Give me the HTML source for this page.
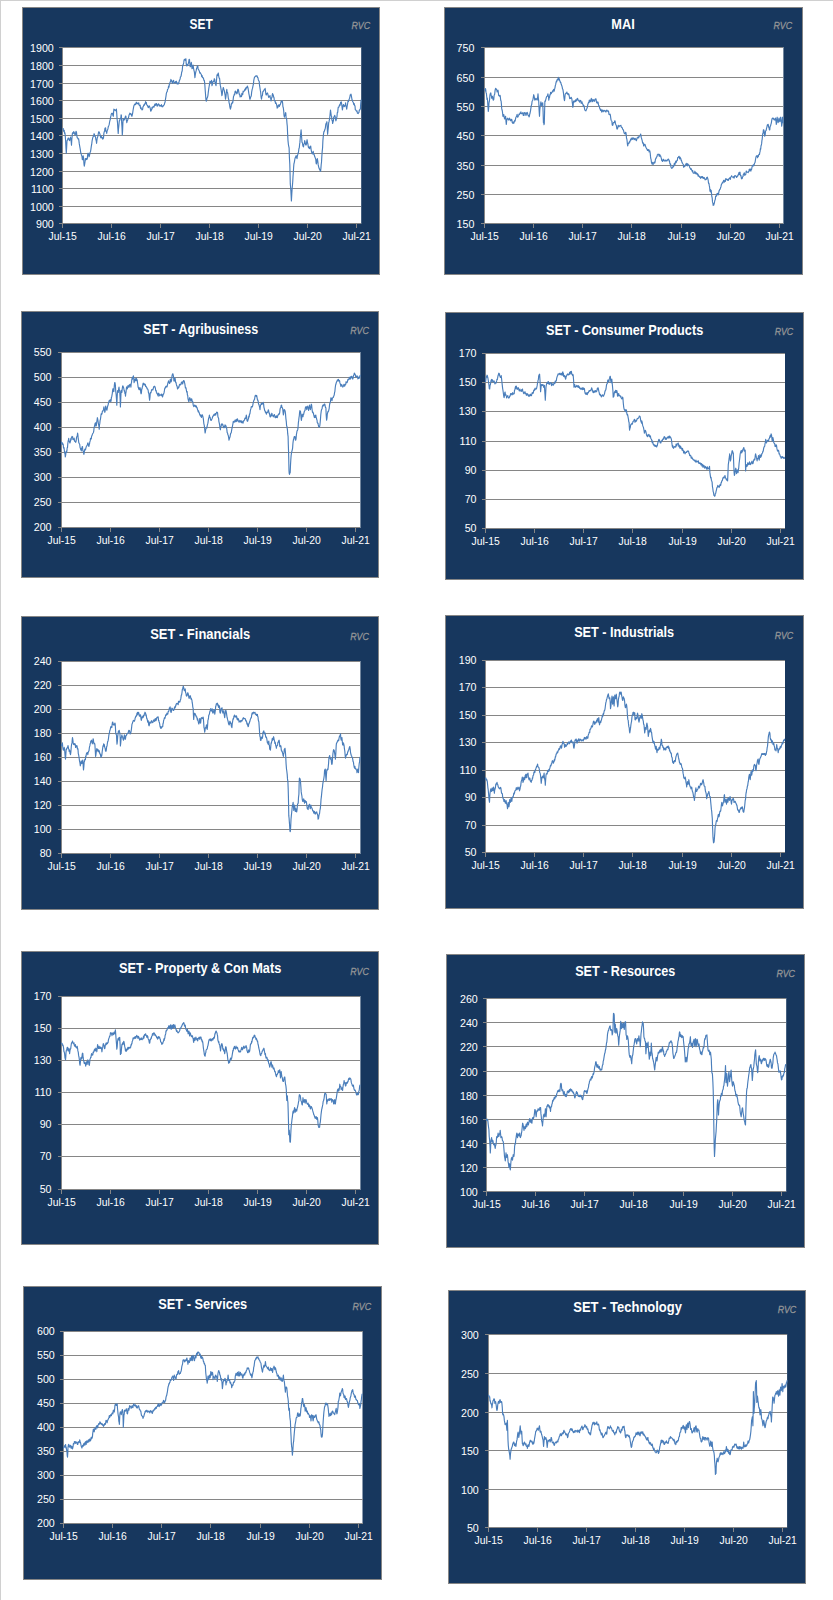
<!DOCTYPE html>
<html lang="en">
<head>
<meta charset="utf-8">
<title>SET sector index charts</title>
<style>
html,body{margin:0;padding:0;background:#fff;}
body{width:833px;height:1600px;overflow:hidden;position:relative;}
svg{display:block;position:absolute;left:0;top:0;}
text{font-family:"Liberation Sans",Arial,Helvetica,sans-serif;}
.ax{font-size:10.67px;fill:#fff;}
.yl{text-anchor:end;}
.xl{text-anchor:middle;}
.tt{font-size:14.2px;font-weight:bold;fill:#fff;text-anchor:middle;}
.rvc{text-rendering:geometricPrecision;font-size:10.2px;font-style:italic;fill:#999;stroke:#999;stroke-width:0.25px;text-anchor:end;}
.g{fill:#868686;shape-rendering:crispEdges;}
.pl{fill:#fff;}
.pn{fill:#17375e;stroke:none;shape-rendering:crispEdges;}
.bd{fill:#868686;shape-rendering:crispEdges;}
.ln{fill:none;stroke:#4a7ebb;stroke-width:1.15;stroke-linejoin:round;stroke-linecap:round;}
</style>
</head>
<body>
<svg width="833" height="1600" viewBox="0 0 833 1600">
<rect x="0" y="0" width="833" height="1" fill="#d0d0d0" shape-rendering="crispEdges"/>
<rect x="0" y="0" width="1" height="1600" fill="#d0d0d0" shape-rendering="crispEdges"/>

<g>
<rect class="bd" x="22" y="7" width="358" height="268"/>
<rect class="pn" x="23" y="8" width="356" height="266"/>
<rect class="pl" x="62" y="47" width="299.2" height="177"/>
<rect class="g" x="59" y="47" width="302.2" height="1"/>
<text class="ax yl" x="53.8" y="51.8">1900</text>
<rect class="g" x="59" y="65" width="302.2" height="1"/>
<text class="ax yl" x="53.8" y="69.8">1800</text>
<rect class="g" x="59" y="83" width="302.2" height="1"/>
<text class="ax yl" x="53.8" y="87.8">1700</text>
<rect class="g" x="59" y="100" width="302.2" height="1"/>
<text class="ax yl" x="53.8" y="104.8">1600</text>
<rect class="g" x="59" y="118" width="302.2" height="1"/>
<text class="ax yl" x="53.8" y="122.8">1500</text>
<rect class="g" x="59" y="135" width="302.2" height="1"/>
<text class="ax yl" x="53.8" y="139.8">1400</text>
<rect class="g" x="59" y="153" width="302.2" height="1"/>
<text class="ax yl" x="53.8" y="157.8">1300</text>
<rect class="g" x="59" y="171" width="302.2" height="1"/>
<text class="ax yl" x="53.8" y="175.8">1200</text>
<rect class="g" x="59" y="188" width="302.2" height="1"/>
<text class="ax yl" x="53.8" y="192.8">1100</text>
<rect class="g" x="59" y="206" width="302.2" height="1"/>
<text class="ax yl" x="53.8" y="210.8">1000</text>
<rect class="g" x="59" y="223" width="302.2" height="1"/>
<text class="ax yl" x="53.8" y="227.8">900</text>
<rect class="g" x="62" y="47" width="1" height="177"/>
<rect class="g" x="62" y="223" width="1" height="5"/>
<text class="ax xl" x="62.7" y="240" textLength="28.2" lengthAdjust="spacingAndGlyphs">Jul-15</text>
<rect class="g" x="111" y="223" width="1" height="5"/>
<text class="ax xl" x="111.7" y="240" textLength="28.2" lengthAdjust="spacingAndGlyphs">Jul-16</text>
<rect class="g" x="160" y="223" width="1" height="5"/>
<text class="ax xl" x="160.7" y="240" textLength="28.2" lengthAdjust="spacingAndGlyphs">Jul-17</text>
<rect class="g" x="209" y="223" width="1" height="5"/>
<text class="ax xl" x="209.7" y="240" textLength="28.2" lengthAdjust="spacingAndGlyphs">Jul-18</text>
<rect class="g" x="258" y="223" width="1" height="5"/>
<text class="ax xl" x="258.7" y="240" textLength="28.2" lengthAdjust="spacingAndGlyphs">Jul-19</text>
<rect class="g" x="307" y="223" width="1" height="5"/>
<text class="ax xl" x="307.7" y="240" textLength="28.2" lengthAdjust="spacingAndGlyphs">Jul-20</text>
<rect class="g" x="356" y="223" width="1" height="5"/>
<text class="ax xl" x="356.7" y="240" textLength="28.2" lengthAdjust="spacingAndGlyphs">Jul-21</text>
<text class="tt" x="201.2" y="29.1" textLength="23.2" lengthAdjust="spacingAndGlyphs">SET</text>
<text class="rvc" x="370.1" y="29" textLength="18.6" lengthAdjust="spacingAndGlyphs">RVC</text>
<polyline class="ln" points="62.9,128.9 63.2,128.5 63.5,131.2 63.8,130.2 64.2,130.3 64.5,133.3 64.9,132.7 65.2,135.2 65.6,140.5 66,148.7 66.3,153.2 66.7,146.1 67,140.6 67.5,140.2 67.9,138.7 68.3,137.9 68.7,138.7 69.1,139.7 69.6,140.6 69.9,138.5 70.2,139.2 70.5,137 70.8,138.5 71.2,141.6 71.5,145.1 71.8,139.8 72.1,136.6 72.4,133.4 72.9,132.6 73.3,133.4 73.7,131.6 74.1,132.5 74.5,132.9 75,135.2 75.3,133.2 75.7,134.1 76,131.3 76.5,132.2 76.9,136.1 77.3,137.9 77.7,137.9 78.1,139 78.6,138.8 78.9,140.6 79.3,143.9 79.6,145.6 80,147.8 80.4,150.1 80.7,152.6 81.1,153.5 81.4,155 81.7,155.5 82,156.7 82.3,159.5 82.6,159.7 82.9,157.1 83.2,155.9 83.6,158.4 84,164.1 84.3,166.2 84.7,163.9 85,161.9 85.4,158.6 85.8,160 86.1,158.5 86.5,158.9 86.8,159.5 87.3,158.6 87.7,154.2 88.1,153.2 88.4,155.2 88.7,154.4 89,156.8 89.4,155.9 89.7,154.4 90.1,152.3 90.5,151.7 90.9,149.3 91.3,146.3 91.7,144.2 92.1,140.9 92.6,138.4 93,137 93.3,136.4 93.7,135.7 94.1,133.7 94.4,134.3 94.8,136.4 95.1,136.2 95.5,137 95.9,139.7 96.2,140.4 96.6,143.3 96.9,140.5 97.3,137.7 97.7,137 98.1,134.8 98.5,132.7 98.9,131.6 99.3,132.6 99.8,133.7 100.2,135.2 100.5,136.9 100.9,137.8 101.3,136.3 101.6,137.9 102,137.9 102.3,137.4 102.7,139.1 103.1,138.8 103.5,137.9 103.9,133.1 104.3,131.6 104.6,131.2 104.9,128.6 105.2,128 105.6,127.9 105.9,131.5 106.3,131.6 106.7,133.4 107.1,130.9 107.5,130.2 107.9,128.9 108.3,126.6 108.8,125.7 109.2,124.4 109.5,122.5 109.9,120.6 110.3,119.3 110.6,117.2 111,115.7 111.3,114.2 111.7,113.3 112.1,113.6 112.5,113.3 112.9,115.5 113.3,116.3 113.6,112.3 113.9,109.1 114.3,110.3 114.7,109.7 115.1,110 115.5,110.3 116,110.9 116.4,109.1 116.7,112.8 117.1,119 117.5,122.4 117.8,127.6 118.2,133.4 118.5,128.9 118.9,125.3 119.3,120.8 119.7,120.7 120.1,118.6 120.5,118.1 120.8,118.6 121.1,114.8 121.4,115.4 121.7,122.9 122,127.5 122.3,134.9 122.6,130.7 122.9,122.9 123.2,119 123.6,120.2 123.9,119.4 124.3,119.8 124.7,118.1 125.1,117.8 125.5,116 125.9,116.3 126.2,119.8 126.5,120.4 126.8,122.6 127.2,120.3 127.5,120.7 127.9,119.2 128.3,118.1 128.7,116.8 129.1,114.7 129.5,114.5 129.8,113.1 130.1,114.2 130.4,113.6 130.8,114.2 131.1,113.9 131.5,115.5 131.9,116.3 132.3,114.9 132.7,112.8 133.1,110 133.4,108.4 133.7,106.7 134,105.5 134.4,104.9 134.7,104.2 135.1,103.9 135.5,104.6 135.9,103.9 136.3,102.2 136.7,102.8 137.2,103.6 137.6,103.7 138,103.2 138.4,104.1 138.7,102.9 139.1,104.5 139.4,105.5 139.8,105.8 140.2,105.2 140.5,108.3 140.9,107.3 141.3,109 141.7,109.1 142.1,110 142.6,109.4 143,106.7 143.4,106.4 143.8,104.9 144.1,105.2 144.5,105.1 144.8,103.7 145.2,103.8 145.6,101.6 145.9,103.1 146.3,102.5 146.7,104.7 147.1,105.2 147.5,105.5 148,107.1 148.4,107.6 148.8,106.4 149.2,105.9 149.5,106.4 149.9,107.3 150.3,108.7 150.7,111.2 151.1,110.9 151.4,109.3 151.7,109.8 152,107.3 152.4,108.2 152.8,106.9 153.1,107 153.5,106.4 153.9,107.2 154.3,106.1 154.7,104.6 155.2,103.9 155.6,105.4 156,104.3 156.4,103.5 156.7,104.2 157.1,106.2 157.4,105 157.8,105.8 158.2,104.1 158.5,103.8 158.9,104.3 159.3,105 159.7,106.1 160.1,105.5 160.6,105.8 161,106.2 161.4,104.6 161.8,105.8 162.1,106.7 162.5,106.6 162.8,106.8 163.2,105.8 163.6,105.5 163.9,105.1 164.3,104.6 164.7,102.9 165.1,102 165.5,99.2 166,96.1 166.4,93.1 166.8,92 167.2,91.8 167.5,89.5 167.9,89.1 168.2,88.4 168.6,86.1 169,87.2 169.3,84.4 169.7,83.9 170.1,81.8 170.5,81.8 170.9,79.4 171.4,80.6 171.8,81.1 172.2,83 172.6,83.5 172.9,81.4 173.3,80.6 173.6,80.3 174,82.4 174.4,82.5 174.7,83.1 175.1,83 175.5,81.7 175.9,82.8 176.3,81.2 176.8,82.4 177.2,84 177.6,83.9 178,83.1 178.3,83.9 178.7,83.4 179,82.1 179.4,80.4 179.8,79.9 180.1,78.9 180.5,76.7 180.9,76.7 181.3,75 181.7,72.2 182.2,70.7 182.6,66.3 183,65 183.4,64 183.7,62.9 184.1,59.7 184.4,59.6 184.8,59.3 185.2,60.3 185.5,60.1 185.9,58.7 186.2,63.6 186.6,65.9 187,64.2 187.3,65.3 187.7,65.7 188.1,64.1 188.4,63.4 188.8,61.3 189.1,59.3 189.5,59.6 189.9,64.5 190.2,66.8 190.6,66.4 190.9,64.3 191.3,62.3 191.7,65.1 192,68.6 192.4,68.4 192.7,67.2 193.1,65 193.5,68.1 193.9,70.1 194.4,72.2 194.6,74.4 194.9,77.6 195.3,74.6 195.7,72.4 196.2,70.4 196.6,68.4 197,67.5 197.4,65.9 197.8,66 198.1,69 198.5,69.5 198.9,70.3 199.3,70.9 199.8,73.1 200.2,72.7 200.6,73.4 201,74 201.4,74.7 201.7,76.7 202.1,75.5 202.5,77.6 202.8,77.3 203.2,78.1 203.5,78.3 203.9,80.5 204.3,80.3 204.6,82.4 204.9,85.6 205.2,90.2 205.5,94 205.8,98.1 206.1,101 206.4,101.1 206.8,99.4 207.1,97.8 207.5,97.4 207.9,95.6 208.3,92.1 208.8,88.4 209.2,86 209.6,83.8 210,81.2 210.4,82.3 210.7,82.3 211.1,81.8 211.5,80.3 211.7,81.9 212,85.7 212.4,84.1 212.7,83.2 213.1,81.3 213.4,81.2 213.9,81.4 214.3,78.7 214.7,79.4 215.1,82.7 215.5,83.9 216,85.7 216.3,82.5 216.7,78.3 217,74.9 217.5,75.6 217.9,73.9 218.3,73.1 218.7,76.1 219.1,78 219.6,78.5 219.9,81.8 220.3,85.4 220.6,86.6 221.1,89.6 221.5,92.2 221.9,95.6 222.3,94 222.7,90.3 223.2,87.5 223.5,87.8 223.9,89.9 224.2,90.2 224.7,93.1 225.1,95.1 225.5,99.2 225.9,96.9 226.3,92.6 226.8,89.3 227.1,92.2 227.5,92.4 227.8,93.8 228.3,98.1 228.7,99.2 229.1,102.8 229.5,104.1 229.9,107.1 230.4,109.1 230.7,108.1 231.1,106.5 231.4,103.7 231.9,103.9 232.3,102 232.7,102.8 233.1,100.1 233.5,96.6 234,95.6 234.3,94.1 234.7,94.7 235,91.8 235.4,91.1 235.8,92.4 236.1,92.8 236.5,92.1 236.8,93.8 237.3,92.9 237.7,89.6 238.1,89.3 238.5,90.2 239,93.2 239.4,94.7 239.7,94.1 240.1,97 240.5,95.8 240.8,96.5 241.2,96.2 241.5,96.6 241.9,93.3 242.3,93.8 242.7,94.7 243.1,91.2 243.5,92 243.9,91.4 244.4,90.7 244.8,89.3 245.1,90.3 245.5,88 245.9,89.3 246.2,87.5 246.6,87.8 246.9,87.2 247.3,86.1 247.7,87 248.1,88.5 248.5,91.1 248.9,93.8 249.2,95.2 249.5,97 249.8,99.2 250.2,99.2 250.5,97 250.9,96.9 251.3,95.6 251.7,91.8 252.1,89.7 252.5,88.4 252.9,86.3 253.4,84.2 253.8,80.3 254.1,78.9 254.5,77.1 254.9,76.8 255.2,76.7 255.6,76.1 255.9,75.9 256.3,76.2 256.7,75.8 257.1,75.8 257.5,77.5 257.9,77.6 258.3,79.7 258.8,80.9 259.2,81.2 259.5,84.9 259.9,87.5 260.3,90.2 260.7,92.5 261.1,97.2 261.5,99.2 261.9,96.2 262.4,95.5 262.8,92 263.1,91.3 263.5,91.2 263.9,90.2 264.3,89.6 264.7,89.5 265.1,88.4 265.4,90 265.7,92.9 266,94.7 266.4,95 266.7,93.4 267.1,93.7 267.5,92.9 267.9,94.3 268.3,95.8 268.7,97.4 269.1,96.5 269.6,96.4 270,95.6 270.3,98 270.7,98.2 271.1,101 271.5,97.9 271.9,97.8 272.3,94.7 272.6,93.5 272.9,95.6 273.2,94.7 273.6,97.1 273.9,97 274.3,99.9 274.7,101 275.1,100.9 275.5,103.4 275.9,102.8 276.3,103.7 276.8,105.3 277.2,108.2 277.5,106.2 277.9,107.5 278.3,105.3 278.6,105.5 279,104.7 279.3,106.5 279.7,105.6 280.1,104.6 280.5,104.1 280.9,102.4 281.3,101 281.7,102 282.2,100.8 282.6,102.8 282.9,106.5 283.3,107.7 283.7,110.9 284,115.1 284.4,117.2 284.7,115.5 285.1,115.5 285.5,112.7 285.8,113 286.1,117.8 286.4,118.1 286.7,119.6 287,123.6 287.3,126.2 287.6,133.4 288,140.6 288.4,144.5 288.7,146.1 289.1,147.8 289.4,157.4 289.8,164 290.1,175.2 290.3,183.9 290.6,187.2 290.9,191.1 291.1,195 291.4,201 291.8,194 292.1,189.3 292.4,185.7 292.7,182.2 293,176.7 293.3,172.9 293.6,167.8 293.9,164 294.2,162.8 294.5,161.5 294.8,159.5 295.2,157.6 295.6,157.7 295.9,155.9 296.3,155.9 296.6,156.3 297,158.6 297.4,155.5 297.7,155 298.1,153.2 298.5,152 298.9,148.8 299.3,147.8 299.6,144.5 299.9,142.4 300.2,138.8 300.5,135.1 300.8,132.9 301.1,129.8 301.4,134.3 301.7,138 302,142.4 302.4,142.7 302.8,145.3 303.1,146.4 303.5,146.9 303.9,143.9 304.3,143.7 304.7,140.6 305.2,142.6 305.6,144.7 306,145.1 306.4,144.2 306.7,141.5 307.1,139.7 307.5,142.8 307.9,144 308.3,146.9 308.8,148 309.2,146.9 309.6,148.7 310,147.4 310.3,147 310.7,146 311.1,149.6 311.5,151.4 311.9,153.2 312.4,153.9 312.8,153.1 313.2,151.4 313.6,154.1 313.9,154.2 314.3,155 314.7,156.6 315.1,157.4 315.5,158.6 315.8,159.6 316.1,163.1 316.4,164 316.7,162.6 317,159.4 317.3,158.6 317.6,160 317.9,162 318.2,164.9 318.7,167.1 319.1,168.2 319.5,169.4 319.9,169.2 320.2,171.2 320.6,171.2 320.9,168.4 321.2,164.5 321.5,162.2 321.8,156.7 322.2,151.4 322.6,147.5 322.9,140.6 323.3,136 323.6,133.4 324,131.4 324.4,131.3 324.7,129.8 325.1,129.1 325.4,127.5 325.8,124.4 326.2,123.2 326.5,123.4 326.9,121.7 327.2,126.9 327.6,134.3 328,130.1 328.3,127.6 328.7,122.6 329,121.9 329.3,120.1 329.6,119 329.9,116.3 330.2,113 330.5,110 330.8,112.3 331.2,115.4 331.6,116.3 331.9,120.2 332.3,120.2 332.6,123.5 333,122.2 333.4,120.7 333.7,117.2 334.1,116.9 334.4,116 334.8,115.4 335.2,116.8 335.5,119 335.9,120.8 336.2,119.6 336.6,118.2 337,116.3 337.3,112.5 337.7,112.4 338.1,108.2 338.4,107 338.8,107.2 339.1,106.4 339.5,104.9 339.9,105.6 340.2,104.6 340.6,102.4 340.9,102.3 341.3,101.9 341.7,104.3 342,106.8 342.4,110 342.7,108.2 343.1,105.4 343.5,104.6 343.8,105.2 344.2,106.7 344.5,106.4 344.9,105.6 345.3,105.4 345.6,102.8 346,106.3 346.3,107 346.7,109.1 347.1,106.3 347.5,104.5 348,101 348.4,101.6 348.8,99.9 349.2,99.2 349.6,98.2 349.9,96.8 350.3,94.7 350.7,94.5 351,94.2 351.4,96.2 351.7,97.8 352.1,100.1 352.5,100.9 352.9,101.8 353.4,102.8 353.8,104.6 354.2,103.6 354.6,105.5 355,105.9 355.3,109.8 355.7,110 356.1,110.4 356.5,111.2 357,110.9 357.4,113.1 357.8,113.4 358.2,113.6 358.6,112.6 358.9,112.6 359.3,110 359.7,110.1 360,109.3 360.4,109.1 360.7,103.7 361.1,100.1"/>
</g>
<g>
<rect class="bd" x="444" y="7" width="359" height="268"/>
<rect class="pn" x="445" y="8" width="357" height="266"/>
<rect class="pl" x="484" y="47" width="299.4" height="177"/>
<rect class="g" x="481" y="47" width="302.4" height="1"/>
<text class="ax yl" x="474.4" y="51.8">750</text>
<rect class="g" x="481" y="77" width="302.4" height="1"/>
<text class="ax yl" x="474.4" y="81.8">650</text>
<rect class="g" x="481" y="106" width="302.4" height="1"/>
<text class="ax yl" x="474.4" y="110.8">550</text>
<rect class="g" x="481" y="135" width="302.4" height="1"/>
<text class="ax yl" x="474.4" y="139.8">450</text>
<rect class="g" x="481" y="165" width="302.4" height="1"/>
<text class="ax yl" x="474.4" y="169.8">350</text>
<rect class="g" x="481" y="194" width="302.4" height="1"/>
<text class="ax yl" x="474.4" y="198.8">250</text>
<rect class="g" x="481" y="223" width="302.4" height="1"/>
<text class="ax yl" x="474.4" y="227.8">150</text>
<rect class="g" x="484" y="47" width="1" height="177"/>
<rect class="g" x="484" y="223" width="1" height="5"/>
<text class="ax xl" x="484.7" y="240" textLength="28.2" lengthAdjust="spacingAndGlyphs">Jul-15</text>
<rect class="g" x="533" y="223" width="1" height="5"/>
<text class="ax xl" x="533.7" y="240" textLength="28.2" lengthAdjust="spacingAndGlyphs">Jul-16</text>
<rect class="g" x="582" y="223" width="1" height="5"/>
<text class="ax xl" x="582.7" y="240" textLength="28.2" lengthAdjust="spacingAndGlyphs">Jul-17</text>
<rect class="g" x="631" y="223" width="1" height="5"/>
<text class="ax xl" x="631.7" y="240" textLength="28.2" lengthAdjust="spacingAndGlyphs">Jul-18</text>
<rect class="g" x="681" y="223" width="1" height="5"/>
<text class="ax xl" x="681.7" y="240" textLength="28.2" lengthAdjust="spacingAndGlyphs">Jul-19</text>
<rect class="g" x="730" y="223" width="1" height="5"/>
<text class="ax xl" x="730.7" y="240" textLength="28.2" lengthAdjust="spacingAndGlyphs">Jul-20</text>
<rect class="g" x="779" y="223" width="1" height="5"/>
<text class="ax xl" x="779.7" y="240" textLength="28.2" lengthAdjust="spacingAndGlyphs">Jul-21</text>
<text class="tt" x="623" y="28.8" textLength="23.4" lengthAdjust="spacingAndGlyphs">MAI</text>
<text class="rvc" x="792.1" y="29.2" textLength="18.6" lengthAdjust="spacingAndGlyphs">RVC</text>
<polyline class="ln" points="484.9,89.3 485.2,91 485.5,88.5 485.8,90.2 486.1,93 486.4,93.4 486.7,96.5 487,99.5 487.3,98.1 487.6,101 488,107.4 488.3,111.5 488.7,107.7 489,102.8 489.3,101.5 489.6,99.5 489.9,95.6 490.2,93.9 490.5,93.3 490.8,92.9 491.1,95.3 491.4,95.9 491.7,98.3 492,97 492.3,96.3 492.6,96.5 492.9,98.8 493.2,100 493.5,100.1 493.8,99.2 494.1,95.7 494.4,94.7 494.7,94.2 495,91.2 495.3,89.3 495.6,88.3 495.9,88.8 496.2,88.8 496.5,89.6 496.8,89.7 497.1,92 497.4,91.6 497.7,90.4 498,90.2 498.3,92.2 498.6,95.1 498.9,95.6 499.4,96.1 499.8,95.3 500.2,95.6 500.5,98.5 500.8,100.7 501.1,101 501.4,104 501.7,108.4 502,110 502.3,110.7 502.6,113.1 502.9,116.3 503.2,114.7 503.5,116.4 503.8,114.5 504.1,116.6 504.4,118.2 504.7,119 505,117.5 505.3,117.2 505.6,116.3 506,121.5 506.3,124.4 506.7,120.5 507,119 507.5,118.2 507.9,118.3 508.3,119.9 508.7,119.2 509.2,119.8 509.6,118.1 509.9,119.2 510.3,119.6 510.7,120.8 511.1,120.5 511.5,119.3 511.9,119.9 512.2,122.5 512.5,121.9 512.8,123.5 513.2,122.3 513.5,122.1 513.9,123.2 514.3,121.7 514.7,120.3 515.1,121.1 515.5,119 515.9,117.3 516.4,116.5 516.8,115.4 517.1,114.4 517.5,117.1 517.9,117 518.2,116.3 518.6,115.7 519.1,114 519.5,114.5 519.8,113.8 520.2,112.8 520.6,113.5 520.9,111.8 521.3,113.7 521.8,113.7 522.2,113.6 522.5,113.2 522.9,112.7 523.3,115.5 523.6,114.5 524,115.4 524.3,112.6 524.7,113.2 525.1,112.7 525.5,113.3 525.9,115.4 526.3,114.5 526.7,112.7 527.2,112.4 527.6,113.3 527.9,115.2 528.3,115.3 528.7,115.9 529,116.9 529.4,116.2 529.7,114.2 530.1,113 530.5,110.9 530.9,108.1 531.3,105.5 531.7,104.6 532.1,101.3 532.6,100.5 533,99.2 533.3,97.4 533.7,94.7 534.1,96.2 534.4,97.9 534.8,100.1 535.1,99.9 535.5,99.5 535.9,98.3 536.3,99.2 536.7,99 537.1,100.1 537.4,99 537.7,96.8 538,93.8 538.4,98.6 538.7,101 539.1,109.9 539.5,116.3 539.8,109.9 540.2,106.4 540.5,104.7 540.9,101.9 541.3,103.3 541.6,105.5 542,104.3 542.3,103.8 542.7,102.8 543.1,111.7 543.4,122.6 543.7,122.2 544,124.7 544.3,123.5 544.6,111.8 544.9,101 545.3,101.4 545.7,99.8 546.1,98.3 546.4,97.2 546.7,96.6 547,96.5 547.3,95.9 547.6,95.3 547.9,93.8 548.2,95.4 548.5,96.7 548.8,100.1 549.2,97.3 549.5,97.6 549.9,94.7 550.3,94.8 550.6,92.3 551,92.9 551.3,93.6 551.7,92.5 552.1,92 552.5,90.9 552.9,92 553.3,90.2 553.6,89.4 553.9,89.6 554.2,91.1 554.6,88.8 554.9,88.2 555.3,85.7 555.7,84.4 556,82.7 556.4,81.2 556.7,81.8 557.1,79.7 557.5,79.4 557.8,80 558.2,77.3 558.5,78.5 558.9,80 559.3,78.7 559.6,80.3 560,81.4 560.4,82.5 560.7,82.1 561.1,83.8 561.4,84.8 561.8,85.7 562.2,87.1 562.5,88.9 562.9,89.3 563.2,91.3 563.5,93.3 563.8,96.5 564.1,98.8 564.5,100.7 564.8,98.4 565.1,94.9 565.4,93.8 565.8,93.6 566.1,93.1 566.5,92.9 566.9,92.1 567.3,93.9 567.7,93.5 568.2,94.7 568.6,93.8 569,94.7 569.4,97 569.7,98.6 570.1,98.3 570.5,98.5 570.9,97.4 571.3,97.4 571.6,98.2 571.9,99.3 572.2,101.9 572.5,103.9 572.8,107.3 573.1,106.7 573.4,101.8 573.7,101 574.1,102.2 574.5,101.4 574.9,100.7 575.4,101.6 575.8,99.7 576.2,101 576.6,100.8 576.9,98.8 577.3,99.5 577.6,98.3 578.1,100.1 578.5,100.8 578.9,101 579.3,101.1 579.6,102.2 580,100.2 580.3,101 580.8,100.6 581.2,103.3 581.6,102.8 582,101.9 582.3,103.5 582.7,103.9 583,104.6 583.4,106.4 583.8,105.4 584.1,106.4 584.5,108.4 584.8,110 585.2,110.3 585.6,110.6 585.9,110.9 586.3,109.9 586.6,109 587,108.2 587.4,107 587.7,105 588.1,103.7 588.5,102.3 588.9,102.6 589.3,100.1 589.8,101.9 590.2,100 590.6,101 591,101.8 591.3,98.4 591.7,99.2 592.1,99.3 592.5,101.6 592.9,101 593.4,99.7 593.8,100.9 594.2,100.1 594.6,101.3 594.9,99.8 595.3,99.1 595.6,98.9 596,98.8 596.4,101.4 596.7,102.8 597.1,102.4 597.4,103.1 597.8,101.9 598.2,102.8 598.5,105.2 598.9,105.5 599.3,106.4 599.7,108.3 600.1,109.1 600.6,110.5 601,109.3 601.4,110.9 601.8,112.1 602.1,110.3 602.5,110.2 602.8,110 603.2,111.7 603.6,110.7 603.9,110.8 604.3,110.9 604.7,110.4 605.1,110.7 605.5,111.8 606,112 606.4,110.6 606.8,110 607.2,110.7 607.5,111.1 607.9,111.2 608.2,110.9 608.6,111.6 609,114.4 609.3,114.5 609.7,114.7 610.1,114.2 610.4,115.4 610.8,118.3 611.1,120.2 611.5,120.8 611.9,121.2 612.2,125 612.6,125.3 612.9,125 613.3,122.8 613.7,122.6 614,122.3 614.4,122.7 614.7,120.8 615.1,121 615.5,123.7 615.8,124.4 616.2,125.2 616.5,126.4 616.9,128.9 617.3,129.1 617.7,128 618.2,125.3 618.6,126.1 619,126.8 619.4,126.2 619.8,125.7 620.1,125.6 620.5,125.9 620.9,125.3 621.2,126.9 621.6,127.3 621.9,127.3 622.3,128 622.7,129.3 623.1,129.5 623.6,130.7 624,132.6 624.4,133.6 624.8,133.4 625.2,134 625.5,132.3 625.9,132.5 626.2,134.3 626.5,138.2 626.8,138.8 627.1,140.9 627.4,144.1 627.7,146 628.1,143.9 628.5,143.1 629,143.3 629.4,141.6 629.8,142.1 630.2,140.6 630.6,139.4 630.9,140.2 631.3,138 631.7,138.8 632,139.3 632.4,139.3 632.7,137.9 633.1,137.8 633.5,138.5 633.7,138.4 634,139.7 634.4,139.5 634.7,138.3 635.1,138.3 635.4,138.8 635.9,140 636.3,140.7 636.7,139.7 637.1,137.8 637.5,138 638,137 638.3,137.3 638.7,137.9 639,136.5 639.4,136.1 639.8,135.5 640.2,135.5 640.7,134 641,136.5 641.4,137.9 641.7,138.8 642.2,140.7 642.6,142.8 643,143.3 643.3,142.9 643.6,145.9 643.9,146 644.2,144.6 644.5,144.4 644.8,144.2 645.2,144.8 645.5,146.1 645.9,147.2 646.2,147.8 646.7,149 647.1,149.1 647.5,150.5 647.9,149.8 648.3,150.4 648.8,149.6 649.1,151.8 649.5,151.1 649.8,150.9 650.2,153.2 650.5,156.4 650.8,158.6 651.1,159.5 651.4,162.1 651.7,163 652,164 652.4,163.6 652.7,162.3 653.1,164.6 653.4,163.1 653.9,163 654.3,162 654.7,163.1 655.1,162 655.5,158.8 656,158.6 656.3,157.3 656.7,157 657,156.6 657.4,154.7 657.8,154.4 658.1,154 658.5,154.5 658.8,155 659.3,156.3 659.7,154.4 660.1,155.9 660.5,155.8 661,157.3 661.4,158.6 661.7,160.5 662.1,160.7 662.5,161.4 662.8,160.4 663.2,159.2 663.5,160.6 663.9,159.7 664.3,160.8 664.7,160.8 665.1,161.2 665.5,160.1 665.9,160.2 666.4,160.9 666.8,160.4 667.1,160.8 667.5,160 667.9,159.4 668.2,159.5 668.6,159.2 669.1,161 669.5,160.8 669.8,163.3 670.2,164.4 670.6,164 670.9,166.6 671.2,167.7 671.5,168 671.9,168.4 672.3,167.8 672.7,167.6 673.1,165.6 673.6,166.7 674,164.9 674.3,163.3 674.7,164.9 675.1,164 675.4,162.2 675.8,161.1 676.1,162.6 676.5,161.7 676.9,160.4 677.3,160.5 677.7,157.5 678.1,157.7 678.5,156.9 679,156.3 679.4,157.2 679.7,158.9 680.1,157.2 680.5,158.1 680.8,158.6 681.1,160.3 681.4,160.1 681.7,161.3 682.1,162.6 682.6,163.5 683,164 683.3,164.6 683.6,167.1 683.9,166.7 684.2,166.8 684.6,166.6 685,166.1 685.3,164.9 685.7,165 686.2,163.4 686.6,164 686.9,165.5 687.3,165.8 687.7,163.5 688,164.9 688.4,165 688.7,164.9 689.1,165.2 689.5,166.7 689.9,167.9 690.3,168.3 690.7,169.4 691.1,168.6 691.6,170 692,170.3 692.3,171.6 692.7,170.6 693.1,172.8 693.4,173.1 693.8,173.1 694.1,173.1 694.5,173.2 694.9,171.2 695.3,173.3 695.7,172.7 696.1,174 696.5,172.9 697,173.8 697.4,174.5 697.7,173.8 698.1,176.2 698.5,175 698.8,175.8 699.2,176.2 699.5,177.1 699.9,176.6 700.3,177 700.7,178.4 701.1,177.2 701.5,176.7 701.9,177.4 702.4,176.6 702.8,178.1 703.1,177.2 703.5,178.4 703.9,177.5 704.2,177.6 704.6,178.4 705.1,179.9 705.5,179.4 705.8,179.4 706.2,179.5 706.6,177.6 706.9,177.6 707.3,177.2 707.8,178.7 708.2,180.3 708.5,183.3 708.9,183.1 709.3,185.7 709.6,187.2 710,191.1 710.4,189.5 710.7,192 711.1,190.2 711.4,192.4 711.8,196.5 712.2,197.9 712.5,201.9 712.9,203.2 713.2,205.5 713.5,203.5 713.8,205 714.1,203.7 714.4,203 714.7,201 715,200.1 715.3,199.5 715.6,196.2 715.9,196.5 716.2,196.4 716.5,195.1 716.8,193.8 717.2,194.8 717.6,193.3 717.9,194.7 718.3,194.8 718.6,193.7 719,191.1 719.4,190.4 719.7,189.3 720.1,189.3 720.5,187.8 720.9,186.9 721.3,184.8 721.8,183.7 722.2,183.1 722.6,182.1 723,182.8 723.3,181.5 723.7,180.3 724.1,180.2 724.5,182.1 724.9,181.2 725.4,181.4 725.8,178.5 726.2,179.4 726.6,179.6 726.9,179.2 727.3,179.4 727.6,180.3 728,179.4 728.4,180.4 728.7,179.2 729.1,178.5 729.5,178 729.9,177.8 730.3,179.4 730.8,177.1 731.2,176.6 731.6,175.8 732,176.3 732.3,176.6 732.7,176.9 733,177.6 733.4,177.4 733.8,176.5 734.1,178.2 734.5,176.7 734.9,175.5 735.3,175.7 735.7,175.8 736.2,176.5 736.6,177.4 737,176.7 737.4,175.9 737.7,176.2 738.1,174.6 738.4,174.9 738.9,172.5 739.3,174.5 739.7,172.2 740,172.1 740.3,175.3 740.6,175.8 740.9,175.4 741.2,177.2 741.5,178.8 741.9,178.1 742.2,178.6 742.6,176.7 743,176.7 743.4,174.2 743.8,174 744.3,172.8 744.7,175.3 745.1,174.9 745.5,174.7 745.8,174.3 746.2,171 746.5,171.2 747,172.1 747.4,172.2 747.8,172.2 748.2,172.6 748.5,171.8 748.9,170.9 749.2,169.4 749.7,170.8 750.1,168.8 750.5,170.3 750.9,171.1 751.2,169.3 751.6,169.5 751.9,167.6 752.4,165.7 752.8,165.9 753.2,164.9 753.6,165.8 753.9,165.7 754.3,164 754.7,162.9 755.1,162.2 755.5,159.5 756,156.9 756.4,156 756.8,155.9 757.2,155.5 757.5,157.7 757.9,156.8 758.3,156.6 758.7,154.8 759.2,154.1 759.5,154.5 759.8,152.4 760.1,151.4 760.4,148.6 760.7,149.2 761,146 761.3,145 761.6,143.9 761.9,140.6 762.2,139.1 762.5,135.8 762.8,133.4 763.1,133.4 763.4,129.9 763.7,129.8 764,130.5 764.4,133.3 764.7,136.1 765.1,135.7 765.5,131.3 765.8,130.7 766.2,130.3 766.5,128.4 766.9,127.1 767.3,125.1 767.7,124.5 768.2,124.4 768.6,126.9 769,127.7 769.4,129.8 769.8,129.8 770.1,126.1 770.5,126.2 770.9,124.4 771.3,123.1 771.8,119.9 772.2,118.5 772.6,118.1 773,118.1 773.4,119 773.7,118.4 774.1,119.9 774.5,119.8 774.9,120 775.4,118.1 775.7,119.7 776,121.3 776.3,124.4 776.6,123.2 776.9,118.3 777.2,117.2 777.5,120.1 777.8,120.6 778.1,122.6 778.4,122 778.7,119.3 779,118.1 779.3,120.7 779.6,121 779.9,121.7 780.2,120.5 780.5,117.4 780.8,117.2 781.1,120.5 781.4,122.4 781.7,126.2 782,123.9 782.3,119.7 782.6,117.2 782.8,119.1 783.1,122.6"/>
</g>
<g>
<rect class="bd" x="21" y="311" width="358" height="267"/>
<rect class="pn" x="22" y="312" width="356" height="265"/>
<rect class="pl" x="61" y="352" width="299.4" height="176"/>
<rect class="g" x="58" y="352" width="302.4" height="1"/>
<text class="ax yl" x="51.5" y="355.6">550</text>
<rect class="g" x="58" y="377" width="302.4" height="1"/>
<text class="ax yl" x="51.5" y="380.6">500</text>
<rect class="g" x="58" y="402" width="302.4" height="1"/>
<text class="ax yl" x="51.5" y="405.6">450</text>
<rect class="g" x="58" y="427" width="302.4" height="1"/>
<text class="ax yl" x="51.5" y="430.6">400</text>
<rect class="g" x="58" y="452" width="302.4" height="1"/>
<text class="ax yl" x="51.5" y="455.6">350</text>
<rect class="g" x="58" y="477" width="302.4" height="1"/>
<text class="ax yl" x="51.5" y="480.6">300</text>
<rect class="g" x="58" y="502" width="302.4" height="1"/>
<text class="ax yl" x="51.5" y="505.6">250</text>
<rect class="g" x="58" y="527" width="302.4" height="1"/>
<text class="ax yl" x="51.5" y="530.6">200</text>
<rect class="g" x="61" y="352" width="1" height="176"/>
<rect class="g" x="61" y="527" width="1" height="5"/>
<text class="ax xl" x="61.7" y="544" textLength="28.2" lengthAdjust="spacingAndGlyphs">Jul-15</text>
<rect class="g" x="110" y="527" width="1" height="5"/>
<text class="ax xl" x="110.7" y="544" textLength="28.2" lengthAdjust="spacingAndGlyphs">Jul-16</text>
<rect class="g" x="159" y="527" width="1" height="5"/>
<text class="ax xl" x="159.7" y="544" textLength="28.2" lengthAdjust="spacingAndGlyphs">Jul-17</text>
<rect class="g" x="208" y="527" width="1" height="5"/>
<text class="ax xl" x="208.7" y="544" textLength="28.2" lengthAdjust="spacingAndGlyphs">Jul-18</text>
<rect class="g" x="257" y="527" width="1" height="5"/>
<text class="ax xl" x="257.7" y="544" textLength="28.2" lengthAdjust="spacingAndGlyphs">Jul-19</text>
<rect class="g" x="306" y="527" width="1" height="5"/>
<text class="ax xl" x="306.7" y="544" textLength="28.2" lengthAdjust="spacingAndGlyphs">Jul-20</text>
<rect class="g" x="355" y="527" width="1" height="5"/>
<text class="ax xl" x="355.7" y="544" textLength="28.2" lengthAdjust="spacingAndGlyphs">Jul-21</text>
<text class="tt" x="200.8" y="333.7" textLength="114.9" lengthAdjust="spacingAndGlyphs">SET - Agribusiness</text>
<text class="rvc" x="368.9" y="334" textLength="18.6" lengthAdjust="spacingAndGlyphs">RVC</text>
<polyline class="ln" points="61.5,442 62,444.3 62.4,442.8 62.8,444.7 63.2,444.2 63.5,448 63.9,447.4 64.2,449.2 64.6,452.8 65,453.8 65.3,457 65.7,454.9 66,451.9 66.3,451.2 66.6,452.5 66.9,451 67.2,447.8 67.5,447.6 67.8,443.8 68.1,441.5 68.4,440.5 68.7,438.4 69,440.9 69.3,441.4 69.6,442 69.9,443 70.2,442.1 70.5,441.1 70.8,438.6 71.1,439.9 71.4,437.5 71.7,437.5 72,436.4 72.3,436.6 72.6,436.6 72.9,439.5 73.2,439.3 73.5,439.2 73.8,439.8 74.1,438.1 74.4,439.9 74.7,441.5 75,441.1 75.3,441.6 75.6,442.3 75.9,442 76.2,440.6 76.5,437.7 76.8,436.6 77.2,436.2 77.6,433 77.9,434.9 78.2,438.7 78.5,440.2 78.8,442.8 79.1,443.1 79.4,443.8 79.7,444.3 80.1,447.8 80.4,448.3 80.7,449.7 81,449.2 81.3,451 81.6,448.2 81.9,448.1 82.2,446.5 82.5,446.5 82.8,450.6 83.1,450.7 83.5,452.5 83.9,454.3 84.2,452.7 84.5,450.6 84.8,449.2 85.1,449.4 85.5,449.9 85.8,448.3 86.2,446.9 86.6,446.2 86.9,445.6 87.3,445 87.7,443.2 88,442.9 88.3,444.4 88.6,445.5 88.9,446.5 89.2,444.8 89.5,444.1 89.8,442 90.2,440.9 90.5,438.4 90.9,438.4 91.3,439 91.6,436.2 92,435.7 92.3,434.6 92.7,433.6 93.1,433 93.4,432.5 93.8,430.8 94.1,427.6 94.5,426.2 94.9,424.3 95.2,423.1 95.6,422.8 95.9,426.1 96.3,425.8 96.7,422.1 97,420.6 97.4,417.7 97.7,419.1 98,420.8 98.3,423.1 98.6,424.7 98.9,426.2 99.2,429.1 99.5,424.8 99.8,423.4 100.1,420.4 100.4,419.5 100.7,417.3 101,415 101.3,413.5 101.7,414.4 102.1,413.2 102.4,411 102.8,411.2 103.1,410.5 103.5,409.7 103.9,406.9 104.2,410 104.5,410.4 104.8,412.3 105.1,411.3 105.4,408.1 105.7,406 106,407.3 106.3,408.7 106.6,409.6 106.9,410.2 107.2,408.6 107.5,406.9 107.8,405.6 108.1,405.2 108.4,403.3 108.7,402.8 109,401.1 109.3,400.6 109.6,401.2 109.9,401 110.2,399.7 110.5,400.3 110.8,401.6 111.1,400.6 111.4,397.4 111.7,397 112,395.2 112.3,393.5 112.6,390.5 112.9,388.9 113.2,388.8 113.5,391.3 113.8,391.6 114.1,388.4 114.4,384.9 114.7,382.6 115,382.6 115.4,385.3 115.7,391.2 116.1,394.3 116.5,399.3 116.8,405.1 117.2,396.8 117.5,390.7 117.9,390.8 118.3,392.5 118.6,389.1 119,387.1 119.3,390 119.7,390.7 120.1,397.9 120.4,406.9 120.8,398.1 121.1,390.7 121.5,390.4 121.9,392.5 122.2,389.3 122.6,386.2 122.9,385.9 123.3,386.9 123.7,388 124,389.6 124.3,391.1 124.6,390.7 124.9,393.5 125.2,392.9 125.5,396.1 125.8,393 126.1,391.8 126.4,388 126.7,386.9 127,387.7 127.3,388.9 127.6,387.7 127.9,386.2 128.2,385.3 128.5,386.7 128.8,387.2 129.1,387.1 129.4,386.1 129.7,384.6 130,384.4 130.3,384.5 130.6,385.5 130.9,387.1 131.2,383.4 131.5,382.8 131.8,379.9 132.1,378 132.4,379.3 132.7,377.2 133,377 133.4,375.9 133.7,378 134.1,382.6 134.5,380.8 134.8,379 135.1,379.9 135.4,378.8 135.7,380.8 136,380.2 136.3,378.2 136.6,379 136.9,381 137.2,379.9 137.5,382.6 137.8,384.5 138.1,387.1 138.4,387.1 138.7,389.1 139,388.1 139.3,389.8 139.6,389.3 139.9,387.5 140.2,388 140.5,389.5 140.8,392.9 141.1,393.8 141.4,393.1 141.7,389.1 142,388.9 142.3,387.1 142.6,386.3 142.9,384.4 143.2,383.1 143.5,384.7 143.8,383.5 144.2,384.9 144.6,384 144.9,384.1 145.3,384.4 145.6,386.5 146,386.2 146.4,387.2 146.7,387.1 147.1,388.9 147.4,388.8 147.8,389.1 148.2,390.7 148.5,393.1 148.9,393.4 149.2,396.9 149.6,400.3 150,397 150.3,392.5 150.7,392.9 151,392.7 151.4,390.7 151.8,389.5 152.1,389.8 152.5,389.8 152.8,390 153.2,388.8 153.6,387.1 153.9,386.5 154.3,387 154.6,386.2 155,386.8 155.4,388.2 155.7,390.7 156.1,390.3 156.4,392.2 156.8,393.4 157.2,393.2 157.5,394.7 157.9,395.2 158.2,396.1 158.6,393.2 159,393.8 159.3,394.4 159.7,395.8 160,395.2 160.4,395.2 160.8,394.7 161.1,394.3 161.5,395.7 161.8,394.1 162.2,396.1 162.6,396.9 162.9,395.5 163.3,394.3 163.6,394 164,392.9 164.4,390.7 164.7,388.6 165.1,387.6 165.4,388 165.8,386.4 166.2,386.8 166.5,386.2 166.9,386.9 167.2,386.2 167.6,384.4 167.9,382.9 168.2,382.4 168.5,380.8 168.8,382.4 169.1,382.1 169.4,383.5 169.7,383.4 170,381.8 170.3,379 170.6,380.6 170.9,382 171.2,381.7 171.5,380.5 171.8,378 172.1,375.4 172.4,374.4 172.7,373.8 173,374 173.3,375.5 173.6,377.2 173.9,380.8 174.2,381.2 174.5,378.4 174.8,378.1 175.1,378.2 175.4,380.6 175.7,382.6 176,382.3 176.3,384.2 176.6,385.3 176.9,386 177.2,386.7 177.5,388.9 177.8,388.5 178.1,388.1 178.4,388 178.7,386.7 179,387.2 179.3,385.3 179.6,384.4 179.9,384.8 180.2,384.4 180.6,384.9 180.9,384.6 181.3,382.6 181.6,382.5 182,381.8 182.4,383.5 182.7,384 183.1,381.8 183.4,380.8 183.8,380.6 184.2,380.9 184.5,382.6 184.8,383.6 185.1,385.6 185.4,388 185.7,387.5 186,387.9 186.3,389.8 186.7,392.2 187.1,391.6 187.4,395 187.7,395.3 188,398.8 188.3,399.7 188.6,401.5 188.9,401.5 189.2,400.3 189.5,397.8 189.8,397.9 190.1,398.3 190.4,399.4 190.7,400.6 191,401.3 191.3,399.7 191.6,398.8 191.9,399.6 192.2,401 192.5,401.5 192.8,401.7 193.2,405.1 193.5,406 193.9,406.6 194.3,405.9 194.6,405.1 195,405.3 195.3,405.7 195.7,406.9 196.1,405.8 196.4,406.3 196.8,407.8 197.1,407.7 197.5,409.5 197.9,410.5 198.2,412 198.6,410.9 198.9,412.3 199.3,413.1 199.7,414.5 200,415 200.4,416 200.7,414.8 201.1,416.8 201.5,417.4 201.8,415.6 202.2,414.7 202.5,415.4 202.9,416.5 203.3,418.6 203.6,421.3 203.9,424.1 204.2,424.9 204.5,427.1 204.8,430 205.1,433 205.4,431.7 205.8,429.1 206.1,428.5 206.5,427.3 206.9,428 207.2,425.8 207.6,424.2 207.9,423.2 208.3,420.4 208.7,417.9 209,417.9 209.4,415 209.7,417.4 210.1,417.2 210.5,419.5 210.7,420.1 211,420.4 211.4,420.3 211.7,419.3 212.1,418.7 212.4,417.7 212.9,416 213.3,416.1 213.7,415 214.1,414.3 214.5,415.3 215,414.1 215.3,413.5 215.7,415.1 216,413.7 216.4,413.2 216.7,412.1 217,412.4 217.3,412.3 217.6,413 217.9,416.6 218.2,417.7 218.6,418.2 218.9,421.6 219.3,423.1 219.6,424.8 220,428.4 220.4,429.8 220.7,426.8 221.1,426.5 221.4,424 221.8,425 222.2,423.8 222.5,424.9 222.9,424.7 223.2,426.3 223.6,427.6 224,427.8 224.3,426.3 224.7,426.7 225,424.8 225.4,425.7 225.8,425.5 226.1,427.7 226.5,427.1 226.8,429.4 227.2,432.6 227.6,433.1 227.9,434.8 228.3,435.6 228.6,437.2 229,440.2 229.4,438.6 229.7,437.8 230.1,436.6 230.4,434.5 230.8,433 231.2,433 231.5,431.2 231.9,428.7 232.2,427.6 232.6,425.4 233,423.3 233.3,421.3 233.7,422.2 234,422.2 234.4,422.2 234.8,420.8 235.1,420.1 235.5,420.4 235.8,421.8 236.2,419.7 236.6,421.3 236.9,419.6 237.3,418.8 237.7,419.5 238,421.1 238.4,420.9 238.7,421.3 239.1,422.3 239.5,421.1 239.8,420.4 240.2,420.5 240.5,421.4 240.9,422.2 241.3,422.6 241.6,420.8 242,421.3 242.3,422.8 242.7,422.3 243.1,423.1 243.4,420.9 243.8,420.9 244.1,420.4 244.5,420 244.9,418.2 245.2,418.6 245.6,418.6 245.9,417.5 246.3,415 246.7,417.2 247,420.4 247.4,421.3 247.7,421 248.1,419.6 248.5,418.6 248.8,416.1 249.2,417 249.5,414.1 249.9,413.9 250.3,411 250.6,409.6 251,408.4 251.3,406.5 251.7,406.9 252.1,406.7 252.4,406.8 252.8,405.1 253.1,403.3 253.5,401.5 253.9,400.6 254.2,399.8 254.6,399.1 254.9,397 255.3,395.4 255.7,395.2 256,395.2 256.4,396.5 256.7,395.6 257.1,397.9 257.5,400.1 257.8,399.8 258.2,401.5 258.5,404 258.9,404.4 259.3,406 259.6,406.8 260,409.6 260.3,406.4 260.7,404.9 261.1,404.2 261.4,403.2 261.8,404.4 262.1,403.3 262.5,403.9 262.9,403.1 263.2,402.4 263.6,403.9 263.9,407.1 264.3,408.7 264.7,410.6 265,410.7 265.4,412.3 265.7,411.7 266.1,413.4 266.5,414.1 266.8,412.7 267.2,412 267.5,412.3 267.9,411.4 268.3,409.8 268.6,410.5 269,413.2 269.3,412.9 269.7,415 270.1,416.8 270.4,416.9 270.8,416.8 271.1,414.2 271.5,415.6 271.9,413.2 272.2,415.1 272.6,415.1 272.9,415.9 273.3,416.8 273.7,415.3 274,415 274.4,414.5 274.7,415.8 275.1,417.7 275.5,416.6 275.8,417.6 276.2,415.9 276.5,417.5 276.9,416 277.3,417.7 277.6,416.4 278,414.8 278.3,415 278.7,413.9 279.1,414 279.4,414.1 279.8,411.8 280.1,408.9 280.5,407.8 280.9,407.4 281.2,405.2 281.6,405.1 281.9,407.5 282.3,407.5 282.7,408.7 283,411.7 283.4,415 283.7,413.1 284.1,409.6 284.5,409.8 284.8,410.1 285.2,411.4 285.5,413.9 285.9,418.6 286.3,421.6 286.6,425.8 287,426.8 287.4,429.4 287.7,433.7 288.1,436.6 288.3,444.3 288.6,452.8 289,470.8 289.2,473.3 289.5,474.4 289.9,472.9 290.2,472.6 290.5,465.1 290.8,460 291.1,455.9 291.5,452.8 291.9,451.2 292.2,450.1 292.6,448.2 292.9,443.8 293.2,441.1 293.5,439.4 293.8,438.4 294.2,436.8 294.6,436.5 294.9,436.6 295.3,439.8 295.6,440.2 296,439.1 296.4,434.6 296.7,433 297.1,430.5 297.4,430.6 297.8,429.4 298.1,426.7 298.4,422.3 298.7,420.4 299,417.5 299.3,415.8 299.6,412.3 299.9,410.5 300.2,412.4 300.5,411.4 300.8,415 301.1,418.3 301.4,420.4 301.8,417.2 302.1,414.1 302.4,414.9 302.7,416 303,416.8 303.3,414.5 303.6,414.5 303.9,413.2 304.3,411.5 304.6,410.9 305,410.5 305.3,408 305.6,407.1 305.9,406.9 306.2,406.5 306.5,408.8 306.8,409.6 307.1,407.6 307.4,407.4 307.7,406 308,407.5 308.3,408.2 308.6,410.5 308.9,407.6 309.2,407.2 309.5,405.1 309.8,407.2 310.1,408.7 310.4,409.6 310.7,407.8 311,406.3 311.3,404.2 311.6,404.9 311.9,407.8 312.2,410.5 312.5,412.3 312.8,412 313.1,413.2 313.4,412.9 313.7,414.8 314,415.9 314.3,417.5 314.6,415.9 314.9,417.7 315.2,415.7 315.5,415.9 315.8,415 316.1,417.6 316.4,417.7 316.7,419.5 317,420 317.3,422.7 317.6,423.1 318,423.1 318.3,424.9 318.7,426.7 319,426.7 319.4,427.2 319.8,425.8 320.1,423.3 320.5,418.6 320.8,414.5 321.2,411.4 321.5,409.8 321.8,409.2 322.1,408.7 322.4,406.4 322.7,405.6 323,405.1 323.4,405.6 323.7,406 324.1,404.2 324.4,404.1 324.8,404.1 325.2,406 325.5,407.6 325.9,407.8 326.2,415.3 326.6,420.1 327,418 327.3,414.1 327.7,412.5 328,411.4 328.3,411.6 328.6,411 328.9,409.6 329.2,408.3 329.5,405.4 329.8,403.3 330.2,403 330.6,400.6 330.9,397.9 331.3,398 331.6,399.5 332,400.6 332.4,398.2 332.7,397.8 333.1,397 333.4,397.4 333.8,395.8 334.2,395.2 334.5,392.9 334.9,391.3 335.2,388 335.6,385 336,384 336.3,382.6 336.7,381.7 337.1,380.8 337.4,379.9 337.8,380.3 338.1,380.9 338.5,379.4 338.9,380.8 339.2,380.5 339.6,380.8 339.9,382.9 340.3,383.9 340.7,385.3 341,386.5 341.4,385 341.7,384.4 342.1,385.6 342.5,385.9 342.8,387.1 343.2,386 343.5,386.1 343.9,384.4 344.3,384.3 344.6,386.2 345,385.3 345.3,384.8 345.7,384.3 346.1,381.7 346.4,382.6 346.8,382.5 347.1,382.6 347.5,381.3 347.9,379.4 348.2,379.9 348.6,379.5 348.9,378.9 349.3,377.2 349.7,378.5 350,379.2 350.4,379 350.7,376.7 351.1,377.8 351.5,376.3 351.8,376.5 352.2,377.8 352.5,379 352.9,378.9 353.3,376.3 353.6,375.4 354,374.8 354.3,373.1 354.7,374 355.1,374.1 355.4,375.3 355.8,377.2 356.1,376.1 356.5,376.7 356.9,376.3 357.2,375.9 357.6,376.9 357.9,379 358.3,377.2 358.7,378.5 359,377.2 359.4,378 359.7,376.8 360.1,375.4"/>
</g>
<g>
<rect class="bd" x="445" y="312" width="359" height="268"/>
<rect class="pn" x="446" y="313" width="357" height="266"/>
<rect class="pl" x="485" y="353" width="300" height="176"/>
<rect class="g" x="482" y="353" width="303" height="1"/>
<text class="ax yl" x="476.5" y="356.6">170</text>
<rect class="g" x="482" y="382" width="303" height="1"/>
<text class="ax yl" x="476.5" y="385.6">150</text>
<rect class="g" x="482" y="411" width="303" height="1"/>
<text class="ax yl" x="476.5" y="414.6">130</text>
<rect class="g" x="482" y="441" width="303" height="1"/>
<text class="ax yl" x="476.5" y="444.6">110</text>
<rect class="g" x="482" y="470" width="303" height="1"/>
<text class="ax yl" x="476.5" y="473.6">90</text>
<rect class="g" x="482" y="499" width="303" height="1"/>
<text class="ax yl" x="476.5" y="502.6">70</text>
<rect class="g" x="482" y="528" width="303" height="1"/>
<text class="ax yl" x="476.5" y="531.6">50</text>
<rect class="g" x="485" y="353" width="1" height="176"/>
<rect class="g" x="485" y="528" width="1" height="5"/>
<text class="ax xl" x="485.7" y="545" textLength="28.2" lengthAdjust="spacingAndGlyphs">Jul-15</text>
<rect class="g" x="534" y="528" width="1" height="5"/>
<text class="ax xl" x="534.7" y="545" textLength="28.2" lengthAdjust="spacingAndGlyphs">Jul-16</text>
<rect class="g" x="583" y="528" width="1" height="5"/>
<text class="ax xl" x="583.7" y="545" textLength="28.2" lengthAdjust="spacingAndGlyphs">Jul-17</text>
<rect class="g" x="632" y="528" width="1" height="5"/>
<text class="ax xl" x="632.7" y="545" textLength="28.2" lengthAdjust="spacingAndGlyphs">Jul-18</text>
<rect class="g" x="682" y="528" width="1" height="5"/>
<text class="ax xl" x="682.7" y="545" textLength="28.2" lengthAdjust="spacingAndGlyphs">Jul-19</text>
<rect class="g" x="731" y="528" width="1" height="5"/>
<text class="ax xl" x="731.7" y="545" textLength="28.2" lengthAdjust="spacingAndGlyphs">Jul-20</text>
<rect class="g" x="780" y="528" width="1" height="5"/>
<text class="ax xl" x="780.7" y="545" textLength="28.2" lengthAdjust="spacingAndGlyphs">Jul-21</text>
<text class="tt" x="624.6" y="335" textLength="157.2" lengthAdjust="spacingAndGlyphs">SET - Consumer Products</text>
<text class="rvc" x="793.3" y="335" textLength="18.6" lengthAdjust="spacingAndGlyphs">RVC</text>
<polyline class="ln" points="485.5,381.8 485.8,380.2 486.1,377.7 486.4,376.4 486.7,377.1 487,375.2 487.3,375.5 487.6,377 487.9,378 488.2,380 488.6,382.5 489,385.4 489.3,388.6 489.7,389 490,385.6 490.4,384.5 490.7,382.8 491,380.7 491.3,380 491.6,379.4 491.9,381.3 492.2,379.7 492.5,379.9 492.8,381.4 493.1,381.8 493.4,381.3 493.7,381.9 494,380.9 494.3,381.8 494.6,382 494.9,384 495.2,383.4 495.5,382.9 495.8,382.7 496.1,383 496.4,381.7 496.7,380.9 497,379.1 497.3,379.6 497.6,378.2 497.9,376.3 498.2,375.6 498.5,374.2 498.8,373.2 499.1,373.6 499.4,373.7 499.7,375.8 500,376.2 500.3,377.3 500.6,377.5 500.9,376.9 501.2,375.5 501.6,378.9 501.9,381.8 502.3,385.4 502.6,388.1 503,390.5 503.4,393.5 503.7,395.9 504.1,397.7 504.4,396 504.8,392.6 505.1,392 505.4,395.1 505.7,394.4 506,395.2 506.3,395.7 506.6,398 506.9,396.4 507.2,396.3 507.5,396.2 507.8,395.5 508.1,397.1 508.4,398 508.8,397.5 509.1,397.9 509.5,397.1 509.8,395.8 510.2,396 510.6,393.5 510.9,394.3 511.3,393.6 511.7,394.4 512,394.9 512.4,393.8 512.7,392.6 513.1,394.3 513.5,393.9 513.8,393.5 514.2,393.7 514.5,390.2 514.9,389.9 515.3,387.4 515.6,386.3 516,388.3 516.3,386.1 516.7,388.1 517.1,389.4 517.4,389.3 517.8,388.1 518.1,387.6 518.5,388.3 518.9,389.9 519.2,390.9 519.6,390.7 519.9,389 520.3,390.7 520.7,390.9 521,390.8 521.4,391.3 521.7,389.6 522.1,389.9 522.5,389 522.8,391.5 523.2,391.7 523.5,393.2 523.9,393.7 524.3,392.6 524.6,393 525,391.7 525.3,393.5 525.7,393.1 526.1,394.6 526.4,395.3 526.8,394.3 527.1,393.5 527.5,394.8 527.9,394.3 528.2,395.7 528.6,396.2 528.9,395.1 529.3,395.1 529.7,396.2 530,394.9 530.4,394.2 530.7,395.3 531.1,395.7 531.5,395.6 531.8,394.1 532.2,392.7 532.5,393.5 532.9,392.6 533.3,393.1 533.6,390.6 534,390.8 534.3,389.4 534.7,390.2 535.1,388.1 535.4,389.2 535.8,389.1 536.1,389 536.5,388.7 536.9,386.8 537.2,385.4 537.5,383.1 537.8,382.4 538.1,380 538.4,379.4 538.7,375.7 539,375.5 539.3,374.3 539.6,374.2 539.8,377.4 540.1,381.8 540.4,387.9 540.6,391.7 541,387.5 541.4,384.5 541.7,385.3 542,384.9 542.3,385.4 542.6,384.6 543,384.5 543.3,385.9 543.7,387.2 544.1,387.5 544.4,385.4 544.7,390.8 545,394.9 545.3,400.2 545.7,392.6 546,387.2 546.3,385.2 546.6,384.1 546.9,382.7 547.3,382.7 547.7,383.4 548,381.5 548.4,381.5 548.7,384 549.1,383.3 549.5,384.3 549.8,382.7 550.2,382.7 550.5,382.5 550.9,383.1 551.3,384.5 551.6,385.6 552,383.2 552.3,384 552.7,384.8 553.1,385.1 553.4,385.1 553.8,383.6 554.1,382.7 554.5,383.6 554.9,383.4 555.2,381.1 555.6,381.8 555.9,380.8 556.3,380.8 556.7,378.2 557,377.2 557.4,375.8 557.7,375.5 558.1,373.9 558.5,374.1 558.8,374.2 559.2,373.8 559.5,373.3 559.9,374.6 560.3,374.7 560.6,374 561,373.2 561.4,374.6 561.7,373.6 562.1,375.5 562.4,373 562.8,371.9 563.1,374.7 563.4,373.4 563.7,376.4 564,375.7 564.3,376.8 564.6,375.5 564.9,375.9 565.2,377.1 565.5,379.1 565.8,378.6 566.1,376.6 566.4,376.4 566.8,375.2 567.1,374.6 567.5,374.2 567.8,373.8 568.2,375 568.6,374.6 568.9,374.6 569.3,374 569.6,372.4 570,374.1 570.4,371.6 570.7,373.2 571.1,371.5 571.4,371.4 571.7,373.9 572,374.4 572.3,374.6 572.6,375.7 572.9,374.4 573.2,375.5 573.6,380.2 574,387.2 574.3,385.2 574.7,384.5 575,386.6 575.4,387.1 575.8,387.2 576.1,386.2 576.5,386.5 576.8,385.4 577.2,386.7 577.6,386 577.9,387.2 578.3,385.7 578.6,387.5 579,386.3 579.4,387.5 579.7,388.4 580.1,388.1 580.4,389.1 580.8,388.3 581.2,389 581.5,389.2 581.9,388 582.2,388.1 582.6,389.6 583,387.6 583.3,389 583.7,389.5 584,388.3 584.4,388.7 584.8,391.7 585.1,393.2 585.5,394.1 585.8,393.2 586.2,392.8 586.6,394.4 586.9,393 587.3,394.6 587.6,392.6 588,393.1 588.4,392.6 588.7,391.7 589.1,390.7 589.4,390.5 589.8,391.2 590.2,390.6 590.5,390.4 590.9,389.9 591.2,389.8 591.6,387.8 592,388.7 592.3,390.9 592.7,390.3 593,392.3 593.4,392.7 593.8,391.3 594.1,391.7 594.5,390.9 594.8,392.5 595.2,391.2 595.6,390.5 595.9,391.5 596.3,391.7 596.6,391.6 597,390.3 597.4,388.1 597.7,389.1 598.1,387.9 598.4,389 598.8,391.2 599.2,392.5 599.5,394.4 599.9,394 600.2,395.5 600.6,394.8 601,395.8 601.3,396.9 601.7,396.2 602,395.9 602.4,394.9 602.8,395.9 603.1,395 603.5,396.2 603.8,395.3 604.2,394.7 604.6,393.3 604.9,391.7 605.3,390.5 605.6,390.2 606,389 606.4,385.9 606.7,384.2 607.1,383.6 607.4,383.3 607.8,380 608.2,380 608.5,381.3 608.9,381.8 609.2,379.4 609.6,378.2 610,376.3 610.3,376.4 610.7,380.4 611.1,382.7 611.4,382.1 611.8,379.1 612.1,382.2 612.5,386.3 612.9,390.7 613.2,397.1 613.6,396.6 613.9,396.2 614.3,392.8 614.7,391.7 615,392.6 615.4,390.8 615.7,390.3 616.1,392.6 616.5,391.6 616.8,390.5 617.2,392.3 617.5,396.2 617.9,393.8 618.3,395.9 618.6,393.5 619,394.7 619.3,395.3 619.7,395.3 620.1,396.4 620.4,396.8 620.8,396.2 621.1,397.4 621.5,398.5 621.9,398.9 622.2,398.1 622.6,397.1 622.9,398 623.3,403.2 623.7,407 624,408.6 624.3,409.5 624.6,409.7 624.9,410.8 625.2,409.7 625.5,411.5 625.8,411.7 626.2,409.7 626.5,410.6 626.9,414 627.3,415.1 627.6,414.6 627.9,416.2 628.2,417.8 628.5,419.4 628.8,421.9 629.1,422.3 629.3,426.7 629.6,430.1 629.9,427.6 630.2,428 630.5,425.9 630.9,424.5 631.2,424.2 631.6,424.1 631.9,423.3 632.3,424.2 632.7,422.9 633,421.4 633.4,421.1 633.7,421.1 634.1,419.9 634.5,419.3 634.8,419.6 635,422.3 635.4,421.2 635.7,421.3 636.1,420.4 636.4,421.1 636.9,419.6 637.3,418.4 637.7,418.7 638.1,418.4 638.5,418.1 639,416.9 639.3,416 639.7,416.4 640,416.4 640.4,418.4 640.8,421.2 641.1,421.4 641.5,423.1 641.8,420.9 642.2,422.3 642.6,425.2 642.9,426.2 643.3,426.8 643.6,428.1 644,430.1 644.4,433.1 644.7,432.2 645.1,430.7 645.4,430.4 645.8,431.4 646.2,433.2 646.5,434.9 646.9,435.7 647.2,436.3 647.6,436.7 648,434.7 648.3,435.3 648.7,434.9 649,434.4 649.4,436.8 649.8,435.8 650.1,435.7 650.5,436.5 650.8,438.5 651.2,439 651.6,439.6 651.9,441.2 652.3,442.8 652.6,441.1 653,443 653.4,444.9 653.7,444.6 654.1,444.8 654.4,446 654.8,445.1 655.2,446.3 655.5,446.3 655.9,445.4 656.2,446.3 656.6,446.9 657,446 657.3,445.7 657.7,443.5 658,442.2 658.4,441.2 658.8,439.5 659.1,439.4 659.5,440.3 659.8,441.2 660.2,443 660.6,442.1 660.9,443 661.3,441 661.7,441.2 662,440.2 662.4,440.5 662.7,439.4 663.1,438.8 663.5,439.1 663.8,437.6 664.2,436.6 664.5,437 664.9,437.3 665.3,439.3 665.6,438.1 666,439.4 666.3,439.4 666.7,438.1 667.1,437.6 667.4,437.3 667.8,438 668.1,436.7 668.5,438 668.9,436.6 669.2,436.2 669.6,438 669.9,436.2 670.3,437.3 670.7,437.5 671,438.3 671.4,439.4 671.7,441.7 672.1,444.8 672.5,447.2 672.8,445.6 673.2,447.5 673.5,448.3 673.9,447.6 674.3,446.6 674.6,447 675,446.6 675.3,446.6 675.7,447.1 676.1,444 676.4,444.8 676.8,445.8 677.1,443.8 677.5,443.9 677.9,443.4 678.2,443 678.6,444.8 678.9,446.6 679.3,445.2 679.7,447.5 680,448.2 680.4,446.1 680.7,446.6 681.1,448.7 681.5,448.2 681.8,448.4 682.2,450.5 682.5,448.3 682.9,450.2 683.3,450.4 683.6,452.9 684,452 684.3,451.3 684.7,452.7 685.1,453.8 685.4,452.8 685.8,452.6 686.1,452 686.5,452.5 686.9,451.4 687.2,451.7 687.6,451.1 687.9,450.8 688.3,451.1 688.7,451.7 689,453.5 689.4,453.8 689.7,455.6 690.1,455.2 690.5,455.6 690.8,455.6 691.2,458.2 691.5,457.4 691.9,457.1 692.3,458.6 692.6,458.3 693,459.7 693.3,459.6 693.7,460.1 694.1,459.8 694.4,460.2 694.8,461 695.1,461.4 695.5,461.8 695.9,460.1 696.2,462 696.6,461.2 696.9,461.9 697.3,462 697.7,461.2 698,461 698.4,460.9 698.7,463.3 699.1,462.8 699.5,463.5 699.8,462.9 700.2,463.7 700.5,463 700.9,464.9 701.3,464.6 701.6,463.5 702,466.1 702.3,465.5 702.7,464.5 703.1,467.3 703.4,466.4 703.8,465.4 704.1,465.7 704.5,467.3 704.9,468.3 705.2,467.2 705.6,466.4 705.9,467.2 706.3,467.5 706.7,469.1 707,469.2 707.4,466.9 707.7,467.3 708.1,468.9 708.5,468.8 708.8,468.2 709.2,468.2 709.5,466.4 709.9,472.4 710.3,475.4 710.6,477.8 711,477.2 711.4,480.2 711.7,480.9 712.1,482.1 712.4,486.3 712.8,488.5 713.2,491.7 713.5,492.3 713.9,495.3 714.2,495.5 714.6,496.2 715,495.9 715.3,493.5 715.7,493.5 716,491.7 716.4,490.1 716.8,488.1 717.1,487.1 717.5,487.2 717.8,485.4 718.2,486.3 718.6,487 718.9,486.3 719.3,487.2 719.6,486.3 720,484.6 720.4,485.4 720.7,485.4 721.1,482.5 721.4,482.7 721.8,480.8 722.2,480.7 722.5,480 722.9,477.9 723.2,477.8 723.6,477.2 724,478.1 724.3,476.7 724.7,476.3 725,475.5 725.4,477.6 725.8,478.2 726.1,479.1 726.5,480 726.8,479.1 727.2,480.4 727.6,480.9 727.9,474.2 728.3,464.6 728.6,462.7 729,459.2 729.4,456.7 729.7,453.8 730.1,458.3 730.4,461 730.8,459.7 731.2,455.6 731.5,455 731.9,452 732.2,450.7 732.6,451.1 733,453.3 733.3,452.9 733.6,460.7 733.9,468.2 734.1,472.6 734.4,475.4 734.8,474.2 735.1,471.8 735.5,469 735.8,468.2 736.2,471.1 736.6,473.6 736.9,470.4 737.3,470 737.6,471.4 738,472.7 738.4,469.6 738.7,468.2 739.1,463.3 739.4,461 739.8,457.6 740.2,453.8 740.5,452.6 740.9,451.1 741.2,450.7 741.6,452.9 742,452.1 742.3,450.2 742.7,451.2 743,449.3 743.4,448.6 743.8,447.5 744.1,448.8 744.5,451.1 744.8,450.7 745.2,450.2 745.6,470.9 745.9,467.4 746.3,464.6 746.6,465.6 747,466.4 747.4,465.4 747.7,462.8 748.1,464.5 748.4,464.6 748.8,463 749.2,464.2 749.5,461.9 749.9,464.3 750.2,463.5 750.6,464.6 751,463.5 751.3,462.3 751.7,461.9 752,461.1 752.4,463.7 752.8,463.7 753.1,463.2 753.5,461.1 753.8,460.1 754.2,459.2 754.6,459.9 754.9,459.2 755.3,455.2 755.6,453.8 756,455.6 756.4,457.4 756.7,458.6 757.1,461 757.4,458.8 757.8,458.3 758.2,457.9 758.5,455.6 758.9,459 759.2,460.1 759.6,457 760,454.7 760.3,456.9 760.7,457.4 761.1,455.2 761.4,456.2 761.8,453.8 762.1,453.2 762.5,453.2 762.9,451.1 763.2,451.3 763.6,448.6 763.9,447.5 764.3,446.6 764.7,446.3 765,443.9 765.4,442 765.7,439.4 766.1,442 766.5,443 766.8,441.6 767.2,440.8 767.5,440.3 767.9,440.4 768.3,440.3 768.6,441.2 769,438.7 769.3,438.5 769.7,437.6 770.1,435.7 770.4,437.2 770.8,435.8 771.1,433.9 771.5,434.9 771.9,438.4 772.2,441.2 772.6,438.3 772.9,437.6 773.3,439.3 773.7,442.1 774,443.1 774.4,443.4 774.7,443.9 775.1,446.4 775.5,446.6 775.8,445.1 776.2,444.8 776.5,445.4 776.9,448.4 777.3,450.1 777.6,451.1 778,450.9 778.3,450.2 778.7,450.8 779.1,453.8 779.4,453.6 779.8,454.6 780.1,455.6 780.5,456.8 780.9,457 781.2,458.3 781.6,456.8 781.9,457.7 782.3,456.5 782.7,457.2 783,457.6 783.4,457.4 783.7,458.4 784.1,457.3 784.5,458.3"/>
</g>
<g>
<rect class="bd" x="21" y="616" width="358" height="294"/>
<rect class="pn" x="22" y="617" width="356" height="292"/>
<rect class="pl" x="61" y="661" width="299.4" height="193"/>
<rect class="g" x="58" y="661" width="302.4" height="1"/>
<text class="ax yl" x="51.5" y="665">240</text>
<rect class="g" x="58" y="685" width="302.4" height="1"/>
<text class="ax yl" x="51.5" y="689">220</text>
<rect class="g" x="58" y="709" width="302.4" height="1"/>
<text class="ax yl" x="51.5" y="713">200</text>
<rect class="g" x="58" y="733" width="302.4" height="1"/>
<text class="ax yl" x="51.5" y="737">180</text>
<rect class="g" x="58" y="757" width="302.4" height="1"/>
<text class="ax yl" x="51.5" y="761">160</text>
<rect class="g" x="58" y="781" width="302.4" height="1"/>
<text class="ax yl" x="51.5" y="785">140</text>
<rect class="g" x="58" y="805" width="302.4" height="1"/>
<text class="ax yl" x="51.5" y="809">120</text>
<rect class="g" x="58" y="829" width="302.4" height="1"/>
<text class="ax yl" x="51.5" y="833">100</text>
<rect class="g" x="58" y="853" width="302.4" height="1"/>
<text class="ax yl" x="51.5" y="857">80</text>
<rect class="g" x="61" y="661" width="1" height="193"/>
<rect class="g" x="61" y="853" width="1" height="5"/>
<text class="ax xl" x="61.7" y="870" textLength="28.2" lengthAdjust="spacingAndGlyphs">Jul-15</text>
<rect class="g" x="110" y="853" width="1" height="5"/>
<text class="ax xl" x="110.7" y="870" textLength="28.2" lengthAdjust="spacingAndGlyphs">Jul-16</text>
<rect class="g" x="159" y="853" width="1" height="5"/>
<text class="ax xl" x="159.7" y="870" textLength="28.2" lengthAdjust="spacingAndGlyphs">Jul-17</text>
<rect class="g" x="208" y="853" width="1" height="5"/>
<text class="ax xl" x="208.7" y="870" textLength="28.2" lengthAdjust="spacingAndGlyphs">Jul-18</text>
<rect class="g" x="257" y="853" width="1" height="5"/>
<text class="ax xl" x="257.7" y="870" textLength="28.2" lengthAdjust="spacingAndGlyphs">Jul-19</text>
<rect class="g" x="306" y="853" width="1" height="5"/>
<text class="ax xl" x="306.7" y="870" textLength="28.2" lengthAdjust="spacingAndGlyphs">Jul-20</text>
<rect class="g" x="355" y="853" width="1" height="5"/>
<text class="ax xl" x="355.7" y="870" textLength="28.2" lengthAdjust="spacingAndGlyphs">Jul-21</text>
<text class="tt" x="200.2" y="638.6" textLength="100.1" lengthAdjust="spacingAndGlyphs">SET - Financials</text>
<text class="rvc" x="368.9" y="640" textLength="18.6" lengthAdjust="spacingAndGlyphs">RVC</text>
<polyline class="ln" points="61.5,745.6 61.8,744.2 62.1,745.3 62.4,742.9 62.7,746.7 63,749 63.3,750.1 63.6,750.1 63.9,749.5 64.2,747.4 64.6,749.5 65,754.6 65.2,757.3 65.5,759.1 65.9,753.4 66.2,749.2 66.5,749.6 66.8,748.4 67.1,748.3 67.4,747.6 67.7,746.7 68,745.6 68.3,747.1 68.6,749 68.9,749.2 69.2,751.3 69.5,750 69.8,751 70.2,753.8 70.5,754.6 70.9,751.8 71.3,746.5 71.6,744.4 72,742.9 72.3,739.1 72.5,737.5 72.9,740.2 73.2,742.9 73.5,744.3 73.8,744.2 74.1,744.7 74.4,743.5 74.7,744.7 75,743.8 75.3,744.5 75.6,747.4 75.9,747.4 76.2,745.8 76.5,746.5 76.8,745.6 77.1,746.2 77.4,748.9 77.7,748.3 78,749.4 78.3,753.7 78.6,754.6 78.9,756.5 79.2,758.5 79.5,760.9 79.9,762.5 80.3,765.8 80.6,764.2 80.9,763.8 81.2,760.9 81.5,763 81.8,763.5 82.1,762.7 82.4,761.7 82.8,760 83.1,764.2 83.5,769.9 83.9,765.9 84.2,761.8 84.5,761.4 84.8,759.4 85.1,759.1 85.4,759.7 85.7,756.1 86,756.4 86.3,754.4 86.6,753.1 86.9,752.8 87.2,752.4 87.5,752.7 87.8,754.6 88.1,752.7 88.4,751.9 88.7,751 89,750.9 89.3,748.2 89.6,746.5 89.9,745.7 90.2,743.7 90.5,742.9 90.8,741 91.1,741.3 91.4,740.2 91.7,742.1 92,741.4 92.3,743.8 92.7,741.8 93.1,738.8 93.4,739.6 93.7,742.7 94,743.8 94.3,743.7 94.6,743.4 94.9,744.7 95.2,749.5 95.6,756.4 95.9,755.2 96.2,752.4 96.5,750.1 96.8,748.6 97.1,750.8 97.4,749.2 97.7,749.5 98,750.4 98.3,751.9 98.6,750 98.9,750.5 99.2,750.7 99.5,751.9 99.8,753.9 100.1,753.7 100.4,754.3 100.7,756.1 101,757.3 101.3,755.2 101.6,756.1 101.9,754.6 102.2,751.6 102.5,749.5 102.8,747.4 103.1,745.5 103.4,746 103.7,743.8 104,746.2 104.3,744.5 104.6,746.5 104.9,747.9 105.2,748.4 105.5,751 105.8,751.2 106.1,751.1 106.4,749.2 106.7,746.3 107,746.2 107.3,743.8 107.6,742 107.9,741.3 108.2,740.2 108.5,738.3 108.8,735.7 109.1,733.9 109.4,733.2 109.7,731 110,730.3 110.3,729.1 110.6,727.5 110.9,726.7 111.2,726.8 111.5,726.3 111.8,727.6 112.1,724.5 112.5,722.2 112.8,722 113.1,724.4 113.4,724.9 113.7,724.4 114,724.1 114.3,724 114.6,725.2 114.9,723 115.2,724 115.5,728.6 115.7,733 116.1,734.3 116.5,734.8 116.7,739.9 117,744.2 117.4,741.2 117.7,736.6 118.1,733.5 118.4,731.2 118.8,732.1 119.2,730.3 119.5,732.2 119.9,733 120.2,738.2 120.4,746 120.8,742.5 121.1,738.4 121.5,736.7 121.9,734.8 122.2,737 122.6,736.6 122.9,738.5 123.2,739.6 123.5,740.2 123.8,739 124.1,737.3 124.4,734.8 124.7,736.2 125,737.8 125.3,739.3 125.6,738.2 125.9,735.5 126.2,735.7 126.5,735.2 126.8,734.3 127.1,733.9 127.4,733.4 127.7,733.5 128,733 128.3,732.6 128.6,730.9 128.9,730.3 129.2,731.2 129.5,730.7 129.8,732.1 130.1,733.9 130.4,733.2 130.7,733 131,731.8 131.3,730.1 131.6,727.6 131.9,724.7 132.2,723.7 132.5,723.1 132.8,721.9 133.1,721.1 133.4,720.4 133.7,720.4 134,721.1 134.3,721.3 134.6,720.5 134.9,719.7 135.2,717.7 135.5,717.7 135.8,716.2 136.1,715.9 136.4,716.1 136.7,715.1 137,713.2 137.3,714.9 137.6,712.4 137.9,714.1 138.2,713.9 138.5,712.3 138.8,712.9 139.1,715 139.4,716.2 139.7,715.9 140,716.1 140.3,714.8 140.6,715 141,718.8 141.3,720.4 141.7,718.7 142,716.8 142.3,717.7 142.6,716.5 142.9,717.7 143.2,715.6 143.5,716.9 143.8,715 144.1,715.6 144.4,713.7 144.7,713.6 145,712.2 145.3,712.7 145.6,713.2 145.9,715.7 146.2,714.8 146.5,716.8 146.8,718.8 147.1,718.7 147.4,720.4 147.7,722.1 148,720.5 148.3,721.3 148.7,724.9 149.1,725.8 149.4,724.6 149.7,722 150,722.2 150.3,722.2 150.6,722.6 150.9,723.1 151.2,721.5 151.5,720.7 151.8,721.3 152.1,721.8 152.4,722.6 152.7,722.2 153,722.3 153.3,720.5 153.6,720.4 153.9,719.8 154.2,720.9 154.5,721.3 154.8,721.1 155.1,718.7 155.4,718.6 155.7,720.1 156,720.7 156.3,719.5 156.6,718.4 156.9,717.3 157.2,717.7 157.5,717.4 157.9,716.8 158.2,717 158.5,720.4 158.8,720.4 159.1,721.9 159.4,722.6 159.7,724 160,726.3 160.3,727.2 160.6,727.6 160.9,728.5 161.2,726.7 161.5,728 161.8,727.2 162.1,726.7 162.4,726.7 162.7,726.6 163,723.6 163.3,723.1 163.6,720.5 163.9,720 164.2,718.6 164.5,717.7 164.8,718.5 165.1,717.7 165.4,716.4 165.7,714.8 166,715 166.3,714.9 166.6,715.1 166.9,713.2 167.2,714.1 167.5,714 167.8,714.1 168.1,711.9 168.4,711.4 168.7,711.4 169,710.1 169.4,707.8 169.8,708.7 170.1,706.9 170.5,709.5 170.8,712.3 171.2,712.4 171.6,709.6 171.9,708.1 172.2,708.4 172.5,708.7 172.8,708.7 173.1,710.5 173.4,710.5 173.7,709.5 174,709.8 174.3,708.7 174.6,706.8 174.9,708 175.2,706.9 175.5,707 175.8,704.8 176.1,705.1 176.4,703.5 176.7,703.7 177,703.3 177.3,703.5 177.6,703.8 177.9,704.2 178.2,704.7 178.5,701.3 178.8,701.5 179.1,702.1 179.4,701.9 179.7,702.1 180,701.6 180.3,699.9 180.6,699.7 180.9,698.2 181.3,695.2 181.6,694.8 182,692.5 182.3,689.6 182.6,689.1 182.9,688 183.3,686.1 183.6,687.1 183.9,688.6 184.2,690.3 184.5,690.7 184.9,689.5 185.2,688.9 185.6,692.6 186,693.4 186.3,695.6 186.7,696.1 187.1,695.7 187.4,694.3 187.8,692.7 188.1,693.4 188.5,695.1 188.9,697.9 189.2,698.3 189.5,696.6 189.8,696.1 190.1,695.9 190.4,695.8 190.7,697.9 191,699.2 191.3,698.4 191.6,699.7 191.9,700 192.2,702.7 192.5,704.2 192.8,707.1 193.2,708.7 193.4,714.4 193.7,719.5 194.1,714.9 194.4,713.2 194.7,714.8 195,713.5 195.3,714.1 195.6,715.3 195.9,715.2 196.2,716.8 196.5,717 196.8,716.9 197.1,718.6 197.4,720.1 197.7,718.8 198,720.4 198.4,722.5 198.8,724 199.1,723 199.4,721.9 199.7,718.6 200,718.7 200.3,722.3 200.6,723.1 200.9,720.8 201.2,718.1 201.5,717.7 201.8,718.2 202.1,718 202.4,718.6 202.7,718.2 203,717.1 203.3,717.7 203.6,721.6 204,727.6 204.3,728.7 204.7,732.1 205,730.6 205.3,727.7 205.6,727.6 205.9,727.9 206.2,726.3 206.5,724.9 206.9,728.5 207.2,729.4 207.6,725.6 207.9,720.4 208.2,719.6 208.5,717.9 208.8,715 209.1,714.9 209.4,713.9 209.7,712.3 210,711 210.3,710.9 210.6,708.7 211,710.5 211.4,711 211.7,709.8 212.1,708.7 212.4,711.5 212.7,712.6 213,713.2 213.3,711.1 213.6,712.3 213.9,709.6 214.2,710.3 214.5,711.7 214.8,714.1 215.1,712 215.4,710.2 215.7,706 216,706.1 216.3,703.8 216.6,704.2 216.9,703.4 217.2,703.2 217.5,703.3 217.8,705.3 218.1,704.6 218.4,706.9 218.7,707.4 219,705.5 219.3,706 219.6,707 219.9,712.1 220.2,713.2 220.5,712.7 220.8,711.1 221.1,708.7 221.4,709.4 221.7,708.2 222,707.8 222.3,710.8 222.6,711.8 222.9,713.2 223.2,712.2 223.5,712.2 223.8,710.5 224.1,713.8 224.4,715.8 224.7,717.7 225,714.9 225.3,713 225.6,710.5 225.9,710.4 226.2,712 226.5,713.2 226.8,715.6 227.1,717.5 227.4,718.6 227.7,719.9 228,721 228.3,722.2 228.6,724.2 228.9,724.2 229.2,724.9 229.5,723.8 229.8,721.4 230.1,721.3 230.4,722.8 230.7,723.6 231,723.1 231.3,726.1 231.6,726.9 231.9,727.6 232.2,723.9 232.5,722.5 232.8,720.4 233.1,718.7 233.4,719.1 233.7,717.7 234,715.9 234.3,716.1 234.6,715 234.9,717 235.2,716.9 235.5,716.8 235.8,716.1 236.1,717.2 236.4,715.9 236.7,716.8 237,719.1 237.3,719.5 237.6,718.4 237.9,720.1 238.2,718.6 238.5,719.7 238.8,719.7 239.1,722.2 239.4,721.2 239.7,721.4 240,721.3 240.3,720.7 240.6,722 240.9,721.9 241.2,720.6 241.5,720.9 241.8,720.4 242.1,720.9 242.4,719.9 242.7,719.5 243,718.2 243.3,718.9 243.6,717.7 243.9,718.3 244.2,718.7 244.5,718.6 244.8,718.6 245.1,718.6 245.4,719 245.7,720.8 246,720.2 246.3,721.3 246.6,721.7 246.9,724 247.2,723.1 247.5,725.2 247.8,724.4 248.1,726.7 248.4,726.4 248.7,724.3 249,723.1 249.3,723.2 249.6,722 249.9,721.3 250.2,719.9 250.5,718.9 250.8,718.6 251.1,717.5 251.4,717.5 251.7,715 252,713.5 252.3,712.8 252.6,713.2 252.9,713.9 253.2,712.5 253.5,712.3 253.8,712.2 254.1,712.9 254.4,712.9 254.7,713.1 255,712.4 255.3,714.1 255.6,714.5 255.9,714.3 256.2,714.7 256.5,715.5 256.8,714.1 257.1,715 257.4,714.5 257.7,716.6 258,716.8 258.3,720.1 258.6,721 258.9,722.2 259.3,728.1 259.6,733 259.9,736.5 260.2,736.6 260.5,740.2 260.8,740.5 261.1,739.7 261.4,737.5 261.7,737 262,737 262.3,738.4 262.7,736.3 263,732.1 263.4,732.7 263.8,730.9 264.1,732.6 264.5,733.9 264.8,733.1 265.2,733 265.5,735.8 265.8,737.1 266.1,737.5 266.4,737.2 266.7,738.4 267,740.2 267.3,742.3 267.6,742 267.9,743.8 268.2,744.3 268.5,741.9 268.8,741.1 269.1,744.9 269.4,745.4 269.7,749.2 270.1,748.3 270.4,750.1 270.8,746.3 271.1,742.9 271.4,743.1 271.7,741.7 272,740.2 272.3,738.3 272.6,740.3 272.9,738.4 273.2,739.4 273.5,736.7 273.8,737.5 274.2,739.8 274.6,741.1 274.9,743.4 275.2,742.2 275.5,743.8 275.8,746 276.1,746.4 276.4,748.3 276.7,746 277,745.6 277.3,745.6 277.6,744.9 277.9,742.3 278.2,742 278.5,742.2 278.8,740.4 279.1,740.2 279.4,742.3 279.8,746.5 280.1,746.7 280.4,746.4 280.7,745.6 281,746.6 281.3,750.1 281.6,750.1 281.9,751.6 282.2,751.3 282.5,752.8 282.8,753.8 283.1,755.6 283.4,756.4 283.7,753.2 284,753.1 284.3,749.2 284.6,749 285,748.3 285.4,752 285.7,756.4 286.1,764.1 286.5,769 286.8,771 287.2,774.4 287.5,778.9 287.9,781.6 288.2,789.3 288.4,796.1 288.8,815.9 289.1,818.3 289.3,821.3 289.6,825.2 289.9,830.3 290.1,831.7 290.4,831.2 290.7,826.1 291,819.5 291.3,816.1 291.7,812.3 292,809.5 292.4,805.1 292.8,804.5 293.1,802.4 293.5,807.1 293.8,810.5 294.2,807 294.6,805.1 294.9,807 295.3,811.4 295.6,810.7 296,808.7 296.4,811.3 296.7,811.9 297.1,809.1 297.4,805.1 297.8,803.7 298.2,803.3 298.5,797.5 298.9,794.3 299.1,785.3 299.4,778 299.8,778.8 300.1,778.9 300.5,781.6 300.9,787.1 301.2,791.9 301.6,794.3 301.9,796 302.3,799.7 302.7,801.3 303,801.5 303.4,800.2 303.7,798.8 304.1,800.1 304.5,803.3 304.8,800.8 305.2,800.6 305.5,801.8 305.9,802.4 306.3,801.5 306.6,803.3 307,806.5 307.3,808.7 307.7,808.8 308.1,809.6 308.4,807 308.8,805.1 309.1,806 309.5,804.2 309.9,806.9 310.2,808.7 310.6,807.8 310.9,805.1 311.3,807.6 311.7,807.8 312,808.1 312.4,809.6 312.7,810.8 313.1,810.5 313.5,811.9 313.8,813.2 314.2,812.3 314.5,811.4 314.9,813.4 315.3,814.1 315.6,813.4 316,812.3 316.3,812.8 316.7,811.9 317.1,813.6 317.4,814.1 317.8,815.5 318.1,819.1 318.5,818.7 318.9,815.9 319.2,814.4 319.6,813.2 319.9,810.3 320.3,808.7 320.7,804.4 321,799.7 321.4,796.7 321.7,793.4 322.1,789.5 322.5,787.1 322.8,783.8 323.2,781.6 323.5,780.2 323.9,778 324.3,775 324.6,769.9 325,769.7 325.3,769 325.7,775.6 326.1,780.7 326.4,774.9 326.8,769.9 327.1,770.4 327.5,769 327.9,769.6 328.2,767.2 328.6,763.1 328.9,758.2 329.3,756.6 329.7,755.5 330,757.9 330.4,759.1 330.7,759 331.1,758.2 331.5,762.8 331.8,764.5 332.2,763.3 332.5,759.1 332.9,753.8 333.3,751 333.6,749.7 334,750.1 334.3,750.8 334.7,753.7 335.1,756.4 335.4,759.1 335.8,753.6 336.2,745.6 336.5,743 336.9,742.9 337.2,742 337.6,741.1 338,740.1 338.3,740.2 338.7,740.8 339,738.4 339.4,736.6 339.8,735.7 340.1,735.9 340.5,733.9 340.8,738.1 341.2,740.2 341.6,738 341.9,737.5 342.3,741.5 342.6,744.7 343,745.1 343.4,742.9 343.7,743.9 344.1,745.6 344.4,748.7 344.8,751 345.2,755.6 345.5,758.2 345.9,756.3 346.2,755.5 346.6,754.3 347,754.6 347.3,754.5 347.7,751.9 348,751.8 348.4,750.1 348.8,749.8 349.1,748.3 349.5,747 349.8,746.5 350.2,749.1 350.6,752.8 350.9,754 351.3,755.5 351.6,755.9 352,757.3 352.4,757.7 352.7,759.1 353.1,761.7 353.4,761.8 353.8,764.9 354.2,767.2 354.5,768.2 354.9,766.3 355.2,768.5 355.6,769 356,768.8 356.3,769.9 356.7,769.9 357,772.6 357.4,771.2 357.8,769 358.1,770.6 358.5,772.6 358.8,768 359.2,763.6 359.6,761.7 359.9,757.3"/>
</g>
<g>
<rect class="bd" x="445" y="615" width="359" height="294"/>
<rect class="pn" x="446" y="616" width="357" height="292"/>
<rect class="pl" x="485" y="660" width="300" height="193"/>
<rect class="g" x="482" y="660" width="303" height="1"/>
<text class="ax yl" x="476.5" y="664">190</text>
<rect class="g" x="482" y="687" width="303" height="1"/>
<text class="ax yl" x="476.5" y="691">170</text>
<rect class="g" x="482" y="715" width="303" height="1"/>
<text class="ax yl" x="476.5" y="719">150</text>
<rect class="g" x="482" y="742" width="303" height="1"/>
<text class="ax yl" x="476.5" y="746">130</text>
<rect class="g" x="482" y="770" width="303" height="1"/>
<text class="ax yl" x="476.5" y="774">110</text>
<rect class="g" x="482" y="797" width="303" height="1"/>
<text class="ax yl" x="476.5" y="801">90</text>
<rect class="g" x="482" y="825" width="303" height="1"/>
<text class="ax yl" x="476.5" y="829">70</text>
<rect class="g" x="482" y="852" width="303" height="1"/>
<text class="ax yl" x="476.5" y="856">50</text>
<rect class="g" x="485" y="660" width="1" height="193"/>
<rect class="g" x="485" y="852" width="1" height="5"/>
<text class="ax xl" x="485.7" y="869" textLength="28.2" lengthAdjust="spacingAndGlyphs">Jul-15</text>
<rect class="g" x="534" y="852" width="1" height="5"/>
<text class="ax xl" x="534.7" y="869" textLength="28.2" lengthAdjust="spacingAndGlyphs">Jul-16</text>
<rect class="g" x="583" y="852" width="1" height="5"/>
<text class="ax xl" x="583.7" y="869" textLength="28.2" lengthAdjust="spacingAndGlyphs">Jul-17</text>
<rect class="g" x="632" y="852" width="1" height="5"/>
<text class="ax xl" x="632.7" y="869" textLength="28.2" lengthAdjust="spacingAndGlyphs">Jul-18</text>
<rect class="g" x="682" y="852" width="1" height="5"/>
<text class="ax xl" x="682.7" y="869" textLength="28.2" lengthAdjust="spacingAndGlyphs">Jul-19</text>
<rect class="g" x="731" y="852" width="1" height="5"/>
<text class="ax xl" x="731.7" y="869" textLength="28.2" lengthAdjust="spacingAndGlyphs">Jul-20</text>
<rect class="g" x="780" y="852" width="1" height="5"/>
<text class="ax xl" x="780.7" y="869" textLength="28.2" lengthAdjust="spacingAndGlyphs">Jul-21</text>
<text class="tt" x="624.1" y="636.6" textLength="99.8" lengthAdjust="spacingAndGlyphs">SET - Industrials</text>
<text class="rvc" x="793.3" y="639" textLength="18.6" lengthAdjust="spacingAndGlyphs">RVC</text>
<polyline class="ln" points="485.5,778.8 485.8,777.8 486.1,780 486.4,779.7 486.7,779.3 487,780.8 487.3,781.5 487.6,784.8 487.9,787.8 488.2,789.7 488.6,794 489,798.7 489.2,800.5 489.5,802.3 489.8,796.3 490,793.3 490.4,790.8 490.8,788.8 491.1,789.7 491.5,791.5 491.8,790.7 492.2,787.9 492.6,789.3 492.9,790.6 493.3,789.5 493.6,787 494,789.9 494.4,793.3 494.7,790 495.1,788.8 495.4,787.6 495.8,784.2 496.1,784.9 496.4,783.3 496.7,783.3 497,782.4 497.3,784 497.6,784.2 497.9,785.1 498.2,786.9 498.5,787 498.8,787.8 499.1,788.2 499.4,788.8 499.7,788.7 500,787.8 500.3,787.9 500.6,787.4 500.9,788.3 501.2,790.6 501.5,792.8 501.8,793.4 502.1,793.3 502.4,794.1 502.7,797.4 503,797.8 503.3,799 503.6,799 503.9,801.4 504.3,801.5 504.6,799.6 505,801.6 505.3,803.2 505.7,803.1 506.1,800.5 506.4,802.8 506.8,804.1 507.1,805.1 507.5,808.6 507.9,805.8 508.2,802.3 508.6,805.4 508.9,806.8 509.3,804.4 509.7,799.6 510,800.4 510.4,802.3 510.8,800.1 511.1,797.8 511.5,800.2 511.8,801.4 512.2,798.1 512.6,796.9 512.9,797.3 513.2,796.5 513.5,795.1 513.8,793.1 514.1,794.1 514.4,793.3 514.7,792 515,790.5 515.3,790.6 515.6,790 515.9,790.2 516.2,787.9 516.5,788.6 516.8,787.9 517.1,789.7 517.4,788.7 517.7,788.7 518,787 518.3,788.9 518.6,788.8 518.9,788.8 519.2,787.7 519.5,790.8 519.8,789.7 520.1,788.8 520.4,786 520.7,786.1 521,783.1 521.3,781.2 521.6,780.6 521.9,779.3 522.3,777 522.6,778.7 523,782.4 523.4,781.1 523.7,777.9 524,777.4 524.3,779.3 524.6,779.7 524.9,778.1 525.2,775.4 525.5,775.2 525.8,774.4 526.1,777.7 526.4,777 526.7,777.6 527,774.1 527.3,774.3 527.7,774.4 528,773.1 528.4,777.4 528.8,778.8 529.1,779.8 529.4,779.4 529.7,777.9 530,778.7 530.3,781 530.6,781.5 530.9,781.2 531.2,782.3 531.5,780.6 531.8,780.4 532.1,779.9 532.4,777.9 532.7,778.1 533,775.8 533.3,775.2 533.6,775 533.9,772.2 534.2,772.5 534.5,771.1 534.8,772.7 535.1,770.7 535.4,769.6 535.7,769.5 536,768 536.3,767.7 536.6,766.1 536.9,766.2 537.2,765.4 537.6,764.1 537.9,766.8 538.3,767.1 538.7,767.1 539,768 539.4,769.8 539.7,772.5 540.1,773 540.5,775.2 540.8,778.3 541.2,783.3 541.5,781.2 541.9,777 542.3,777.2 542.6,776.1 543,778 543.3,777 543.7,775.6 544.1,773.1 544.4,777.8 544.8,779.7 545.1,781.6 545.3,785.2 545.7,779.3 546,775.2 546.3,773.8 546.6,773.7 546.9,773.4 547.2,774 547.5,770.8 547.8,770.7 548.1,770.9 548.4,770 548.7,771.6 549,769.3 549.3,770 549.6,768.9 549.9,768.1 550.2,766.6 550.5,765.3 550.8,766 551.1,765.2 551.4,763.5 551.7,764 552,762 552.3,760.8 552.6,760.7 552.9,760.9 553.2,762.6 553.5,763.1 553.8,761 554.1,761.7 554.4,759.4 554.7,760.5 555,759 555.3,756.7 555.6,757 555.9,755.4 556.2,753.9 556.5,754 556.8,753.6 557.1,751.9 557.4,752.7 557.7,752.7 558,751.3 558.3,750.2 558.6,750 558.9,748.6 559.2,749.7 559.5,749.1 559.8,748.8 560.2,746.4 560.5,746.4 560.8,745.7 561.1,746.9 561.4,748.2 561.7,747.3 562,744.6 562.3,743.7 562.6,743.6 562.9,741.3 563.2,741.9 563.5,743.2 563.9,743.2 564.2,744.2 564.6,747.3 565,745.2 565.3,744.6 565.7,746.2 566,746.4 566.3,745.8 566.6,745.7 566.9,744.6 567.2,743.7 567.5,744.5 567.8,743.7 568.1,742.5 568.4,742.5 568.7,741.9 569,742.1 569.3,743.8 569.6,742.8 569.9,743 570.2,741.8 570.5,741 570.8,741.8 571.1,740.8 571.4,740.1 571.7,741.7 572,742 572.3,742.8 572.7,742.6 573.1,741.9 573.3,743.8 573.6,747.3 574,748.2 574.3,746.4 574.7,743.7 575,740.1 575.3,740.8 575.6,739.9 575.9,739.2 576.2,739 576.5,740.5 576.8,742.8 577.1,743.1 577.4,741.6 577.7,740.1 578,741 578.3,740.7 578.6,739.2 578.9,738.7 579.2,741.3 579.5,740.1 579.8,740.2 580.1,740.2 580.4,739.2 580.7,739.9 581,739.7 581.3,741 581.6,740.7 581.9,740.3 582.2,740.1 582.5,739.8 582.8,740.3 583.1,741 583.4,740.3 583.7,739.1 584,739.2 584.3,737.5 584.6,738.9 584.9,737.4 585.2,737.6 585.5,738.2 585.8,739.2 586.1,739.2 586.4,738 586.7,736.5 587,737 587.3,737.2 587.6,738.3 587.9,738 588.2,735.1 588.5,734.7 588.8,733.7 589.1,732.6 589.4,732 589.7,732.6 590,729.4 590.3,729.3 590.6,729 590.9,728.2 591.2,727.5 591.5,725.9 591.8,726 592.1,726.6 592.4,726.9 592.7,725.7 593,723.9 593.4,721.7 593.8,721.2 594.1,721.6 594.5,723.9 594.8,724.3 595.2,722.1 595.6,722.8 595.9,723 596.3,722.3 596.6,720.3 597,720.6 597.4,718.5 597.7,719.6 598.1,722.1 598.4,719.9 598.8,717.6 599.2,722.5 599.5,724.8 599.9,723 600.2,723 600.5,721.4 600.8,722.4 601.1,720.3 601.4,720.4 601.7,718.6 602,717.6 602.3,715.6 602.6,716.8 602.9,714.9 603.2,713.7 603.5,714.5 603.8,713.1 604.1,711.5 604.4,710.3 604.7,710.4 605.1,708.3 605.5,705 605.8,702.9 606.2,701.4 606.5,699.7 606.9,698.7 607.3,697.2 607.6,696 608,694.8 608.3,693.9 608.7,696.2 609.1,698.7 609.4,698.7 609.8,697.8 610.2,702 610.5,708.6 610.9,706.4 611.2,703.2 611.6,699.6 612,696 612.3,701 612.7,704.1 613,699.9 613.4,696.9 613.8,701.9 614.1,705.9 614.5,699.6 614.8,695.1 615.2,697.5 615.6,698.7 615.9,697 616.3,694.2 616.6,697.5 617,700.5 617.4,703.6 617.7,706.8 618.1,704.6 618.4,699.6 618.8,697.4 619.2,696 619.5,692.8 619.9,692.1 620.2,692.6 620.6,694.2 621,692.1 621.3,692.8 621.7,696 622,696.9 622.4,699.7 622.8,700.5 623.1,697.8 623.5,696.9 623.8,698.2 624.2,698.7 624.6,701 624.9,705 625.3,707.4 625.6,707.7 626,705.7 626.4,704.1 626.7,705.5 627.1,709.5 627.4,714.9 627.8,719.4 628.2,720.4 628.5,723.9 628.9,726.9 629.2,727.5 629.5,731.5 629.8,732.9 630.1,731 630.5,728.4 630.9,725 631.2,723 631.6,721.1 631.9,717.6 632.3,714.9 632.7,714.9 633,712.4 633.4,712.2 633.7,713 634.1,714.9 634.5,712.7 634.8,713.1 635,719.4 635.3,719.9 635.6,718.7 635.9,717.6 636.2,718.8 636.5,718.7 636.8,718.5 637.2,715 637.5,713.1 637.9,714.7 638.2,717.6 638.6,720.2 639,722.1 639.3,720.7 639.7,717.6 640,717.1 640.4,715.8 640.8,716.6 641.1,718.5 641.5,717 641.8,713.7 642.2,715.4 642.6,717.6 642.9,719.8 643.3,721.2 643.6,724.1 644,724.8 644.4,729.4 644.7,732.9 645.1,730.1 645.4,727.5 645.8,728.7 646.2,729.3 646.5,725.3 646.9,723 647.2,724.6 647.6,726.6 648,732.6 648.3,736.5 648.7,733.8 649,731.1 649.4,730.1 649.8,732 650.1,731.2 650.5,728.4 650.8,729.2 651.2,732 651.6,732.4 651.9,735.6 652.3,738.1 652.6,740.1 653,742.3 653.4,742.8 653.7,741.2 654.1,741.9 654.4,743.6 654.8,745.5 655.2,747.2 655.5,749.1 655.9,746.7 656.2,746.4 656.6,750 657,752.7 657.3,750.2 657.7,749.1 658,750.2 658.4,750 658.8,748.7 659.1,747.3 659.5,748.3 659.8,749.1 660.2,746.1 660.6,744.6 660.9,742.7 661.3,739.2 661.7,740.9 662,745.5 662.3,745.6 662.6,745.5 662.9,747.3 663.2,747 663.5,747.7 663.8,750 664.1,749.8 664.4,748.2 664.7,749.1 665,748.3 665.3,749.5 665.6,750 665.9,749.7 666.2,747.3 666.5,747.3 666.8,747.5 667.1,746.9 667.4,746.4 667.7,747.6 668,747.1 668.3,746.1 668.6,748.3 668.9,747.1 669.2,748.2 669.5,750.6 669.8,750.1 670.1,751.8 670.4,751.8 670.7,752.8 671,753.6 671.3,753.4 671.6,756.7 671.9,757.2 672.2,757.8 672.5,761.2 672.8,762.6 673.2,761.8 673.5,763.5 673.9,762 674.3,760.8 674.6,760.5 675,761.7 675.3,761.3 675.7,758.1 676.1,756.2 676.4,755.4 676.7,754.4 677,753.7 677.3,753.6 677.7,753 678,754.5 678.4,757.2 678.8,759 679.1,760.2 679.5,762.6 679.8,762.9 680.2,764.4 680.6,763.4 680.9,763.5 681.3,764.5 681.6,766.2 682,768 682.4,768 682.7,769.9 683.1,773.4 683.4,774.6 683.8,777.9 684.2,777.9 684.5,778.8 684.9,778.2 685.2,777 685.6,779.1 686,782.4 686.3,783.5 686.7,787 687,783.8 687.4,781.5 687.8,784.3 688.1,784.2 688.5,783.2 688.8,779.7 689.2,782.3 689.6,785.2 689.9,785.8 690.3,787 690.6,786.9 691,788.8 691.4,788.4 691.7,787 692.1,789.9 692.4,791.5 692.8,792.1 693.2,794.2 693.5,796.3 693.9,797.8 694.2,797.9 694.4,800.5 694.8,796.7 695.1,794.2 695.5,790.4 695.9,787.9 696.2,790.5 696.6,791.5 696.9,790.9 697.3,789.7 697.7,789.2 698,788.8 698.4,787.2 698.7,786.1 699.1,787.1 699.5,787.9 699.8,786.4 700.2,785.2 700.5,783.5 700.9,783.3 701.3,784.8 701.6,784.2 702,784.2 702.3,782.4 702.7,780.8 703.1,779.7 703.4,781.3 703.8,783.3 704.1,786 704.5,786.1 704.9,786.4 705.2,789.7 705.6,791.8 705.9,792.4 706.3,794.5 706.7,798.7 707,796.4 707.4,796 707.7,794.2 708.1,793.3 708.5,792.7 708.8,791.5 709.2,793.2 709.5,796 709.9,796.5 710.3,796.9 710.6,800.9 711,805 711.4,809.4 711.7,811.3 712,815.1 712.3,818.5 712.6,827.5 713,837.4 713.2,839.4 713.5,842.8 713.9,842.3 714.2,841 714.5,837.1 714.8,832.9 715,828.7 715.3,825.7 715.7,825 716,823 716.4,820.6 716.8,821.2 717.1,821.3 717.5,818.5 717.8,817.8 718.2,814.9 718.6,814.4 718.9,816.7 719.3,815.5 719.6,813.1 720,811.1 720.4,811.3 720.7,810.9 721.1,807.7 721.4,804.8 721.8,802.3 722.2,804.8 722.5,805.9 722.9,803.8 723.2,803.2 723.6,801.4 724,798.7 724.2,795.3 724.5,794.7 724.8,799.4 725,802.3 725.4,800.2 725.8,799.6 726.1,800.8 726.5,804.1 726.8,801.2 727.2,798.7 727.6,800.5 727.9,802.3 728.3,798.6 728.6,797.8 729,798.1 729.4,800.5 729.7,798.1 730.1,796.5 730.4,798.2 730.8,799.6 731.2,802.4 731.5,804.1 731.9,800.7 732.2,799.6 732.6,799.9 733,798.3 733.3,798.5 733.7,799.6 734,802.4 734.4,802.3 734.8,801.4 735.1,801.4 735.5,802.1 735.8,803.2 736.2,803.6 736.6,805 736.9,805.1 737.3,807.7 737.6,809.8 738,809.5 738.4,810.6 738.7,811.3 739.1,812.5 739.4,812.2 739.8,809.8 740.2,809.5 740.5,808.5 740.9,807.7 741.2,807.5 741.6,808.6 742,807 742.3,806.8 742.7,808.7 743,811.3 743.4,812.1 743.8,812.2 744.1,809.8 744.5,807.7 744.8,804.7 745.2,800.5 745.6,798.8 745.9,794.2 746.3,792.2 746.6,789.7 747,788.7 747.4,786.1 747.7,785.6 748.1,782.4 748.4,781.2 748.8,777 749.2,775.2 749.5,774.3 749.9,778.1 750.2,779.7 750.6,776.3 751,771.6 751.3,772 751.7,775.2 752,773.5 752.4,769.8 752.8,771.5 753.1,770.7 753.5,769.7 753.8,766.2 754.2,764.9 754.6,764.4 754.9,765.6 755.3,765.3 755.6,769 756,770.7 756.4,767.4 756.7,764.4 757.1,763.1 757.4,760.8 757.8,759.6 758.2,759 758.5,763 758.9,764.4 759.2,762.3 759.6,759.9 760,758.3 760.3,758.1 760.7,757 761.1,756.3 761.4,755.2 761.8,753.6 762.1,753.7 762.5,754.5 762.9,753.6 763.2,753.6 763.6,754.5 763.9,754.5 764.3,753.5 764.7,753.6 765,754.5 765.4,755.4 765.7,753.7 766.1,754.5 766.5,752.2 766.8,750.9 767.2,747.5 767.5,746.4 767.9,741.9 768.3,737.4 768.6,735.1 769,733.8 769.2,732.6 769.5,732 769.9,733.3 770.2,737.4 770.6,739.8 771,739.2 771.3,740.2 771.7,742.8 772,740.5 772.4,741 772.8,743.1 773.1,744.6 773.5,742.8 773.8,743.7 774.2,745.7 774.6,747.3 774.9,749.9 775.3,750 775.6,749.2 776,750.9 776.4,747.7 776.7,744.6 777.1,747.4 777.4,748.2 777.8,749.7 778.2,752.7 778.5,750.3 778.9,750 779.2,748.3 779.6,749.1 780,748.4 780.3,746.4 780.7,747.7 781,747.3 781.4,745.8 781.8,744.6 782.1,743.3 782.5,742.8 782.8,743.8 783.2,741.9 783.6,740.3 783.9,740.1 784.3,740.6 784.6,739.2"/>
</g>
<g>
<rect class="bd" x="21" y="951" width="358" height="294"/>
<rect class="pn" x="22" y="952" width="356" height="292"/>
<rect class="pl" x="61" y="996" width="299.4" height="194"/>
<rect class="g" x="58" y="996" width="302.4" height="1"/>
<text class="ax yl" x="51.5" y="999.9">170</text>
<rect class="g" x="58" y="1028" width="302.4" height="1"/>
<text class="ax yl" x="51.5" y="1031.8">150</text>
<rect class="g" x="58" y="1060" width="302.4" height="1"/>
<text class="ax yl" x="51.5" y="1063.8">130</text>
<rect class="g" x="58" y="1092" width="302.4" height="1"/>
<text class="ax yl" x="51.5" y="1095.8">110</text>
<rect class="g" x="58" y="1124" width="302.4" height="1"/>
<text class="ax yl" x="51.5" y="1127.8">90</text>
<rect class="g" x="58" y="1156" width="302.4" height="1"/>
<text class="ax yl" x="51.5" y="1159.8">70</text>
<rect class="g" x="58" y="1189" width="302.4" height="1"/>
<text class="ax yl" x="51.5" y="1192.8">50</text>
<rect class="g" x="61" y="996" width="1" height="194"/>
<rect class="g" x="61" y="1189" width="1" height="5"/>
<text class="ax xl" x="61.7" y="1206" textLength="28.2" lengthAdjust="spacingAndGlyphs">Jul-15</text>
<rect class="g" x="110" y="1189" width="1" height="5"/>
<text class="ax xl" x="110.7" y="1206" textLength="28.2" lengthAdjust="spacingAndGlyphs">Jul-16</text>
<rect class="g" x="159" y="1189" width="1" height="5"/>
<text class="ax xl" x="159.7" y="1206" textLength="28.2" lengthAdjust="spacingAndGlyphs">Jul-17</text>
<rect class="g" x="208" y="1189" width="1" height="5"/>
<text class="ax xl" x="208.7" y="1206" textLength="28.2" lengthAdjust="spacingAndGlyphs">Jul-18</text>
<rect class="g" x="257" y="1189" width="1" height="5"/>
<text class="ax xl" x="257.7" y="1206" textLength="28.2" lengthAdjust="spacingAndGlyphs">Jul-19</text>
<rect class="g" x="306" y="1189" width="1" height="5"/>
<text class="ax xl" x="306.7" y="1206" textLength="28.2" lengthAdjust="spacingAndGlyphs">Jul-20</text>
<rect class="g" x="355" y="1189" width="1" height="5"/>
<text class="ax xl" x="355.7" y="1206" textLength="28.2" lengthAdjust="spacingAndGlyphs">Jul-21</text>
<text class="tt" x="200.1" y="972.9" textLength="162.3" lengthAdjust="spacingAndGlyphs">SET - Property &amp; Con Mats</text>
<text class="rvc" x="368.9" y="975" textLength="18.6" lengthAdjust="spacingAndGlyphs">RVC</text>
<polyline class="ln" points="61.5,1043.2 61.8,1043.7 62.1,1043.4 62.4,1044.6 62.7,1045.6 63,1045 63.3,1046.4 63.6,1048.1 63.9,1051.4 64.2,1051.8 64.6,1053.7 65,1058.1 65.2,1058.5 65.5,1059.9 65.8,1056.9 66,1052.7 66.4,1050.1 66.8,1050 67.1,1047.6 67.5,1047.3 67.8,1050.1 68.2,1050.9 68.6,1051 68.9,1048.2 69.3,1050.4 69.6,1053.6 70,1050.4 70.4,1049.1 70.7,1048.7 71.1,1045.5 71.4,1043.5 71.8,1042.5 72.2,1042 72.5,1041 72.9,1042.7 73.2,1043.7 73.6,1043.7 74,1042.8 74.3,1045.4 74.7,1045.5 75,1046.5 75.4,1044.6 75.7,1046.1 76,1047.4 76.3,1047.3 76.6,1047.9 76.9,1047.1 77.2,1046.4 77.6,1048.5 77.9,1050.9 78.3,1052.4 78.6,1055.4 79,1057 79.4,1059.9 79.7,1063.9 80.1,1065.3 80.4,1062.3 80.8,1058.1 81.2,1057.4 81.5,1059 81.9,1058 82.2,1054.5 82.5,1053.2 82.8,1053.3 83.1,1057.2 83.5,1059.9 83.9,1061.6 84.2,1063.5 84.6,1062.4 84.9,1062.6 85.3,1063.6 85.7,1066.2 86,1064.2 86.4,1061.7 86.8,1062.8 87.1,1064.4 87.5,1062.5 87.8,1059.9 88.2,1061.4 88.6,1061.7 88.9,1064.5 89.3,1065.3 89.6,1063.2 90,1059 90.4,1058.5 90.7,1057.2 91,1057.4 91.3,1054.8 91.6,1053.6 91.9,1055.1 92.2,1055.2 92.5,1054.5 92.8,1054.9 93.1,1052.2 93.4,1052.7 93.7,1052 94,1051 94.3,1050 94.6,1049.1 94.9,1050.2 95.2,1050.9 95.5,1050.4 95.8,1048.2 96.1,1049.1 96.5,1049 96.8,1051.8 97.2,1048.5 97.6,1044.6 97.9,1045.7 98.3,1047.3 98.6,1048.5 98.9,1047.8 99.2,1046.4 99.5,1048 99.8,1048.5 100.1,1048.2 100.4,1047.1 100.7,1048.3 101,1047.3 101.3,1047.6 101.6,1049.2 101.9,1051.8 102.2,1049.6 102.6,1048.2 102.9,1046 103.2,1043.8 103.5,1043.7 103.9,1045.1 104.2,1046.4 104.6,1048.7 104.9,1048.2 105.3,1045.2 105.7,1044.6 106,1043.2 106.3,1044.7 106.6,1042.8 106.9,1043.2 107.2,1043.3 107.5,1043.7 107.8,1042.3 108.1,1042.3 108.4,1040.1 108.7,1039.1 109,1038 109.3,1037.4 109.6,1036.1 109.9,1036.4 110.2,1034.7 110.5,1032.7 110.8,1033.3 111.1,1032.9 111.4,1034.2 111.7,1033.2 112,1035.6 112.3,1033.7 112.7,1032.9 113,1033.4 113.4,1034.7 113.8,1033.8 114.1,1032 114.5,1033 114.8,1033.8 115.1,1031.8 115.4,1029.9 115.7,1033.9 116.1,1039.2 116.5,1044 116.8,1049.1 117.2,1046.8 117.5,1041.9 117.9,1039 118.3,1038.3 118.6,1038 119,1040.1 119.3,1037.7 119.7,1037.4 120.1,1044.6 120.4,1054.5 120.8,1053 121.1,1053.6 121.5,1048.6 121.9,1044.6 122.2,1044.4 122.6,1042.8 122.9,1044.6 123.3,1043.7 123.7,1041.4 124,1041.9 124.4,1044.2 124.7,1046.4 125.1,1047.9 125.5,1050.9 125.8,1051.2 126.2,1049.1 126.5,1051.1 126.9,1050 127.3,1049.7 127.6,1048.2 128,1047.3 128.3,1049.1 128.7,1048.2 129.1,1047.3 129.4,1047.6 129.8,1048.2 130.1,1048 130.4,1046.8 130.7,1047.3 131,1044.7 131.3,1045.2 131.6,1043.7 131.9,1043.8 132.2,1041.4 132.5,1041 132.8,1039.8 133.1,1037.9 133.4,1038.3 133.7,1038.1 134,1038.7 134.3,1037.4 134.6,1037.7 134.9,1036.9 135.2,1038.3 135.5,1036.6 135.8,1038.2 136.1,1036.5 136.4,1037 136.7,1035.4 137,1036 137.3,1036.8 137.6,1036.4 137.9,1038.3 138.2,1038.2 138.5,1036.3 138.8,1037.4 139.1,1037.7 139.4,1039.2 139.7,1040.1 140,1039.7 140.3,1038.9 140.6,1039.2 140.9,1039.4 141.2,1037.9 141.5,1038.3 141.8,1039.3 142.1,1039.7 142.4,1038.9 142.7,1038.5 143,1039 143.3,1037.1 143.6,1036.1 143.9,1038.1 144.2,1036.5 144.5,1034.6 144.8,1035.5 145.1,1034.7 145.4,1033.9 145.7,1033.9 146,1035.3 146.3,1035.3 146.6,1036.3 146.9,1037.4 147.2,1035.6 147.5,1036.2 147.8,1036.5 148.1,1038.7 148.4,1039.2 148.7,1039.2 149.1,1041.7 149.4,1043.2 149.8,1043 150.1,1040.1 150.4,1039.3 150.7,1039.3 151,1037.8 151.3,1038.4 151.6,1036.7 151.9,1036 152.2,1035.4 152.5,1033.7 152.8,1034.2 153.1,1035.2 153.4,1033.2 153.7,1033.5 154,1032.8 154.3,1033.1 154.6,1034.2 154.9,1035.4 155.2,1034.3 155.5,1035.3 155.8,1036 156.1,1036.1 156.4,1036 156.7,1037.8 157,1037.9 157.3,1037.4 157.6,1039.1 157.9,1037.2 158.2,1038.3 158.5,1036.8 158.8,1036.5 159.1,1037.8 159.4,1037.3 159.7,1037.5 160,1039.2 160.3,1039.1 160.6,1041.6 160.9,1041.9 161.2,1042.5 161.5,1042.8 161.8,1044.3 162.1,1044.1 162.4,1043 162.7,1043.7 163,1042.4 163.3,1041.6 163.6,1041 163.9,1038.8 164.2,1040.5 164.5,1038.3 164.8,1038.3 165.1,1035.5 165.4,1034.7 165.7,1033.9 166,1030.9 166.3,1031.1 166.6,1030.1 166.9,1030.2 167.2,1029.3 167.5,1028.8 167.8,1027.6 168.1,1028.4 168.4,1027.5 168.7,1025.9 169,1025.7 169.4,1027.4 169.8,1028.4 170.1,1027.2 170.5,1024.8 170.8,1027.2 171.2,1029.3 171.6,1028.3 171.9,1025.2 172.3,1027.7 172.6,1028.4 173,1025.3 173.4,1024.5 173.7,1027.4 174.1,1027.5 174.4,1026.7 174.8,1024.8 175.2,1026.5 175.5,1028.1 175.9,1029.1 176.2,1030.2 176.5,1031.4 176.8,1030.2 177.1,1031.1 177.4,1032.2 177.7,1032 178,1032.9 178.3,1032.8 178.6,1032.6 178.9,1032 179.2,1031.5 179.5,1031.1 179.8,1030.2 180.1,1028.2 180.4,1028.2 180.7,1028.4 181,1027.5 181.3,1026.7 181.6,1026.6 181.9,1025.6 182.2,1024.8 182.5,1024.8 182.8,1023.6 183.1,1023.5 183.4,1023 183.7,1022.6 184,1023 184.3,1024.8 184.6,1026.1 184.9,1025.5 185.2,1025.2 185.6,1028.2 186,1029.3 186.3,1029.7 186.7,1031.1 187.1,1031.4 187.4,1029.3 187.8,1031.4 188.1,1033.8 188.5,1032.4 188.9,1031.1 189.2,1032.1 189.6,1036 189.9,1033.6 190.3,1032.9 190.7,1034.5 191,1035.3 191.4,1036.7 191.7,1036.5 192.1,1035.7 192.5,1036 192.8,1038.1 193.2,1038.3 193.4,1040.9 193.7,1042.5 194.1,1039 194.4,1038.3 194.7,1037.9 195,1040.4 195.3,1039.2 195.6,1039 195.9,1037.1 196.2,1038.3 196.5,1039.4 196.8,1039.1 197.1,1040.1 197.4,1038.6 197.7,1040.8 198,1039.2 198.3,1038.3 198.6,1038.5 198.9,1037.4 199.2,1037.2 199.5,1039.2 199.8,1038.3 200.1,1038.2 200.4,1037 200.7,1037.1 201,1037.1 201.3,1039.8 201.6,1039.2 201.9,1040.2 202.2,1041.8 202.5,1041 202.9,1043.2 203.3,1047.3 203.6,1049.4 204,1051.8 204.3,1054.4 204.7,1055.8 205.1,1056.1 205.4,1053.6 205.8,1052.6 206.1,1050 206.5,1049.5 206.9,1049.1 207.2,1049 207.6,1046.4 207.9,1045.8 208.3,1043.7 208.7,1041.4 209,1040.1 209.4,1039.3 209.7,1039.2 210,1039.3 210.3,1040.5 210.6,1038.9 211,1041 211.3,1040.9 211.6,1039.5 211.9,1039.2 212.2,1040 212.5,1038.6 212.8,1040.1 213.1,1039.3 213.4,1038.7 213.7,1037.4 214,1037.9 214.3,1038.1 214.6,1036.5 214.9,1033.7 215.2,1033.9 215.5,1032 215.8,1031.8 216.1,1031.1 216.4,1031.7 216.7,1032.7 217,1033 217.3,1034.7 217.6,1035.9 217.9,1040.1 218.2,1041 218.5,1042.3 218.8,1041.6 219.1,1043.7 219.4,1044.4 219.7,1044.8 220,1047.3 220.3,1048.7 220.5,1050.9 220.9,1047.8 221.3,1045.5 221.6,1043.9 221.9,1043.6 222.2,1044.6 222.5,1045.9 222.8,1049.1 223.1,1049.1 223.4,1048.8 223.7,1051 224,1050 224.3,1050.7 224.7,1053.6 225,1051.9 225.4,1048.2 225.8,1046.7 226.1,1047.3 226.5,1050.1 226.8,1051.8 227.2,1053.5 227.6,1057.2 227.9,1060.2 228.3,1060.8 228.6,1063.2 229,1063 229.3,1061.2 229.6,1062.4 229.9,1059.9 230.2,1060.2 230.5,1058 230.8,1059 231.1,1059.8 231.4,1058.2 231.7,1058.1 232,1056.1 232.3,1054.4 232.6,1052.7 232.9,1050.4 233.2,1051 233.5,1048.2 233.8,1048.3 234.1,1047.8 234.4,1046.4 234.7,1048.3 235,1047.5 235.3,1049.1 235.7,1048.2 236,1046.1 236.4,1047.9 236.8,1048.2 237.1,1047.4 237.5,1047.3 237.8,1049.1 238.2,1050 238.5,1050.6 238.8,1051.8 239.1,1050.9 239.4,1051.3 239.7,1051.4 240,1052.2 240.3,1051.8 240.6,1051.6 240.9,1050 241.2,1049.7 241.5,1047.9 241.8,1047.3 242.1,1048.2 242.4,1049.8 242.7,1049.1 243,1048.7 243.3,1048 243.6,1046.4 243.9,1046.1 244.2,1047.5 244.5,1048.2 244.8,1048 245.1,1047 245.4,1047.3 245.7,1047.2 246,1045.5 246.3,1046.4 246.7,1047.6 247,1050.9 247.3,1051 247.6,1052.7 247.9,1052.2 248.2,1052.6 248.5,1050.1 248.8,1050 249.1,1051.5 249.4,1051.9 249.7,1050.9 250.1,1047.5 250.4,1044.6 250.7,1044 251,1043.3 251.3,1043.7 251.6,1041.4 251.9,1042.2 252.2,1040.1 252.5,1038.8 252.8,1037.3 253.1,1037.4 253.4,1037.8 253.7,1037.1 254,1036 254.3,1035.1 254.6,1036.4 254.9,1035.6 255.2,1037.6 255.5,1037.5 255.8,1038.3 256.1,1039.5 256.4,1038.4 256.7,1039.2 257,1040.7 257.3,1041.3 257.6,1041 258,1044.2 258.4,1045.5 258.7,1047.5 259.1,1049.1 259.4,1050.4 259.8,1052.7 260.2,1055 260.5,1055.1 260.8,1055.6 261.1,1053.7 261.4,1053.6 261.7,1053.5 262,1052 262.3,1050.9 262.6,1051 262.9,1050.4 263.2,1049.1 263.6,1049.3 263.9,1048.2 264.3,1050.3 264.7,1052.7 265,1054.6 265.4,1053.6 265.7,1056.3 266.1,1058.1 266.5,1057.7 266.8,1057.2 267.2,1058.4 267.5,1060.8 267.9,1060.1 268.3,1059.9 268.6,1063.2 269,1063.5 269.3,1065 269.7,1067.1 270.1,1065.5 270.4,1064.4 270.8,1061.9 271.1,1061.7 271.5,1063.9 271.9,1067.1 272.2,1064.9 272.6,1065.3 272.9,1066.5 273.3,1068.9 273.7,1068.3 274,1068 274.4,1070 274.7,1071.6 275.1,1071.3 275.5,1073.4 275.8,1074.8 276.2,1076.1 276.5,1076.7 276.9,1074.3 277.3,1074.5 277.6,1073.4 278,1073.3 278.3,1070.7 278.7,1072.2 279.1,1072.5 279.4,1070.2 279.8,1069.8 280.1,1073.7 280.5,1077.9 280.9,1073.9 281.2,1071.6 281.6,1074.7 281.9,1077 282.3,1077.5 282.7,1080.6 283,1081.4 283.4,1081.5 283.7,1080.6 284.1,1077.9 284.5,1077.1 284.8,1077 285.2,1081.3 285.5,1084.2 285.9,1085.9 286.3,1089.6 286.5,1095.2 286.8,1100.4 287.1,1099 287.4,1095.9 287.6,1100.5 287.9,1102.2 288.2,1111.3 288.4,1118.4 288.8,1134.7 289.1,1132.4 289.3,1130.2 289.6,1135.8 289.9,1141.9 290.1,1141.9 290.4,1142.2 290.7,1135.4 291,1129.3 291.3,1125.2 291.7,1122.1 292,1119.3 292.4,1116.6 292.8,1112.9 293.1,1111.2 293.5,1110.8 293.8,1113 294.2,1109.6 294.6,1107.6 294.9,1108.7 295.3,1112.1 295.6,1109.5 296,1109.4 296.4,1110.9 296.7,1111.2 297.1,1108.6 297.4,1107.6 297.8,1106 298.2,1104 298.5,1102.2 298.9,1100.4 299.1,1096.5 299.4,1094.7 299.8,1095 300.1,1095 300.5,1097.4 300.9,1100.4 301.2,1101.1 301.6,1102.2 301.9,1104.3 302.3,1104.9 302.7,1101 303,1097.7 303.4,1101 303.7,1102.2 304.1,1102.2 304.5,1099.5 304.8,1100.4 305.2,1103.1 305.5,1100.4 305.9,1099.5 306.3,1100.6 306.6,1102.2 307,1103.6 307.3,1104 307.7,1104.3 308.1,1103.1 308.4,1104.4 308.8,1106.7 309.1,1106.7 309.5,1104.9 309.9,1106.2 310.2,1108.5 310.6,1109 310.9,1106.7 311.3,1106.5 311.7,1107.6 312,1108.1 312.4,1109.4 312.7,1110.7 313.1,1112.1 313.5,1113.4 313.8,1114.8 314.2,1115 314.5,1116.6 314.9,1117.5 315.3,1118.4 315.6,1117.4 316,1116.6 316.3,1116.7 316.7,1119.3 317.1,1119.4 317.4,1117.5 317.8,1120.4 318.1,1124.8 318.5,1126.4 318.9,1127.5 319.2,1126.8 319.6,1127.1 319.9,1123.8 320.3,1122.1 320.7,1118.3 321,1114.8 321.4,1111.6 321.7,1109.4 322.1,1108 322.5,1105.8 322.8,1104.4 323.2,1101.3 323.5,1100.7 323.9,1099.5 324.3,1096.8 324.6,1094.1 325,1093.3 325.3,1093.2 325.7,1094.1 326.1,1094.1 326.4,1097.6 326.8,1104 327.1,1101.2 327.5,1101.3 327.9,1099.3 328.2,1099.5 328.6,1099 328.9,1100.4 329.3,1100.4 329.7,1098.6 330,1100.1 330.4,1099.5 330.7,1099.3 331.1,1098.6 331.5,1099.2 331.8,1102.2 332.2,1100.8 332.5,1099.5 332.9,1100.3 333.3,1100.4 333.6,1103.7 334,1104 334.3,1102.8 334.7,1099.5 335.1,1101.5 335.4,1104 335.8,1100.3 336.2,1098.6 336.5,1096.8 336.9,1094.1 337.2,1091.8 337.6,1089.6 338,1090.6 338.3,1088.7 338.7,1091.1 339,1090.5 339.4,1088.4 339.8,1084.2 340.1,1086.3 340.5,1086 340.8,1086.7 341.2,1089.6 341.6,1088.8 341.9,1087.8 342.3,1087.9 342.6,1090.5 343,1086.8 343.4,1084.2 343.7,1083.8 344.1,1080.6 344.4,1082.7 344.8,1082.4 345.2,1084.7 345.5,1086 345.9,1085.6 346.2,1082.4 346.6,1083.7 347,1083.3 347.3,1083 347.7,1081.5 348,1081.9 348.4,1079.7 348.8,1078.4 349.1,1078.8 349.5,1079.3 349.8,1077.9 350.2,1078.3 350.6,1078.8 350.9,1079.5 351.3,1082.4 351.6,1083.4 352,1084.2 352.4,1085.8 352.7,1086 353.1,1086.4 353.4,1085.1 353.8,1088 354.2,1089.6 354.5,1090.3 354.9,1090.5 355.2,1090.2 355.6,1091.4 356,1092.3 356.3,1094.1 356.7,1095 357,1095 357.4,1093.3 357.8,1093.2 358.1,1094.7 358.5,1094.1 358.8,1091.3 359.2,1090.5 359.6,1086.6 359.9,1085.1"/>
</g>
<g>
<rect class="bd" x="446" y="954" width="359" height="294"/>
<rect class="pn" x="447" y="955" width="357" height="292"/>
<rect class="pl" x="486" y="998" width="300.2" height="194"/>
<rect class="g" x="483" y="998" width="303.2" height="1"/>
<text class="ax yl" x="477.8" y="1002.8">260</text>
<rect class="g" x="483" y="1022" width="303.2" height="1"/>
<text class="ax yl" x="477.8" y="1026.8">240</text>
<rect class="g" x="483" y="1046" width="303.2" height="1"/>
<text class="ax yl" x="477.8" y="1050.8">220</text>
<rect class="g" x="483" y="1071" width="303.2" height="1"/>
<text class="ax yl" x="477.8" y="1075.8">200</text>
<rect class="g" x="483" y="1095" width="303.2" height="1"/>
<text class="ax yl" x="477.8" y="1099.8">180</text>
<rect class="g" x="483" y="1119" width="303.2" height="1"/>
<text class="ax yl" x="477.8" y="1123.8">160</text>
<rect class="g" x="483" y="1143" width="303.2" height="1"/>
<text class="ax yl" x="477.8" y="1147.8">140</text>
<rect class="g" x="483" y="1167" width="303.2" height="1"/>
<text class="ax yl" x="477.8" y="1171.8">120</text>
<rect class="g" x="483" y="1191" width="303.2" height="1"/>
<text class="ax yl" x="477.8" y="1195.8">100</text>
<rect class="g" x="486" y="998" width="1" height="194"/>
<rect class="g" x="486" y="1191" width="1" height="5"/>
<text class="ax xl" x="486.7" y="1208" textLength="28.2" lengthAdjust="spacingAndGlyphs">Jul-15</text>
<rect class="g" x="535" y="1191" width="1" height="5"/>
<text class="ax xl" x="535.7" y="1208" textLength="28.2" lengthAdjust="spacingAndGlyphs">Jul-16</text>
<rect class="g" x="584" y="1191" width="1" height="5"/>
<text class="ax xl" x="584.7" y="1208" textLength="28.2" lengthAdjust="spacingAndGlyphs">Jul-17</text>
<rect class="g" x="633" y="1191" width="1" height="5"/>
<text class="ax xl" x="633.7" y="1208" textLength="28.2" lengthAdjust="spacingAndGlyphs">Jul-18</text>
<rect class="g" x="683" y="1191" width="1" height="5"/>
<text class="ax xl" x="683.7" y="1208" textLength="28.2" lengthAdjust="spacingAndGlyphs">Jul-19</text>
<rect class="g" x="732" y="1191" width="1" height="5"/>
<text class="ax xl" x="732.7" y="1208" textLength="28.2" lengthAdjust="spacingAndGlyphs">Jul-20</text>
<rect class="g" x="781" y="1191" width="1" height="5"/>
<text class="ax xl" x="781.7" y="1208" textLength="28.2" lengthAdjust="spacingAndGlyphs">Jul-21</text>
<text class="tt" x="625.2" y="976" textLength="100.1" lengthAdjust="spacingAndGlyphs">SET - Resources</text>
<text class="rvc" x="795" y="977" textLength="18.6" lengthAdjust="spacingAndGlyphs">RVC</text>
<polyline class="ln" points="486.5,1120.4 486.8,1118.8 487.1,1120.1 487.4,1119.5 487.8,1120.4 488.2,1124.1 488.5,1126.8 488.9,1129.5 489.2,1136.3 489.6,1140.3 490,1145.9 490.3,1152.9 490.6,1148 490.9,1140.3 491.2,1139.3 491.6,1137.6 491.9,1141 492.3,1142.1 492.7,1140.2 493,1141.2 493.4,1143.7 493.7,1144.8 494.1,1144.4 494.5,1143.9 494.8,1146.4 495.2,1148.4 495.5,1146.2 495.9,1144.8 496.3,1142.1 496.6,1136.7 497,1137.6 497.3,1137.6 497.7,1136 498.1,1133.1 498.4,1135.4 498.8,1136.7 499.1,1135.4 499.5,1134 499.9,1133.1 500.2,1130.4 500.6,1134.3 500.9,1137.6 501.3,1137.3 501.7,1136.7 502,1137.4 502.4,1140.3 502.7,1140.9 503.1,1141.2 503.5,1143.3 503.8,1147.5 504.2,1152.2 504.5,1156.5 504.9,1158.5 505.3,1161 505.6,1157.7 506,1152.9 506.3,1155.4 506.7,1157.4 507.1,1155.6 507.4,1154.7 507.8,1158.3 508.1,1161.9 508.5,1163.7 508.9,1167.3 509.2,1166.9 509.6,1163.7 509.9,1167.9 510.3,1170 510.7,1165.2 511,1161 511.4,1158.3 511.8,1157.4 512.1,1158.6 512.5,1160.1 512.8,1157.8 513.2,1154.7 513.6,1155.4 513.9,1156.5 514.3,1152.8 514.6,1146.6 515,1143.9 515.4,1143.9 515.7,1140.2 516.1,1137.6 516.4,1135.4 516.8,1133.1 517.2,1133.9 517.5,1137.6 517.9,1135.7 518.2,1134 518.6,1135.1 519,1135.8 519.3,1133.8 519.7,1133.1 520,1136.8 520.4,1137.6 520.8,1136.2 521.1,1135.8 521.5,1133.1 521.8,1131.3 522.2,1127.5 522.6,1123.2 522.9,1123.8 523.3,1125.9 523.6,1128 524,1130.4 524.4,1127.5 524.7,1126.8 525.1,1126.3 525.4,1128.6 525.8,1126.9 526.2,1124.1 526.5,1124.7 526.9,1126.8 527.2,1123.5 527.6,1122.2 528,1122.9 528.3,1125 528.7,1123.3 529,1122.2 529.4,1119.4 529.8,1118.6 530.1,1121 530.5,1122.2 530.8,1121.6 531.2,1119.5 531.6,1122.8 531.9,1123.2 532.3,1119.1 532.6,1117.7 533,1117.6 533.4,1118.6 533.7,1117.8 534.1,1115.9 534.4,1113.8 534.8,1109.6 535.2,1109.8 535.5,1111.4 535.9,1115.2 536.2,1116.8 536.6,1112.3 537,1110.5 537.3,1111 537.7,1111.1 538,1108.9 538.4,1109.6 538.8,1109.1 539.1,1110.5 539.5,1109.8 539.8,1107.8 540.2,1107.5 540.6,1107.5 540.9,1113.4 541.3,1116.8 541.6,1120.9 542,1122.2 542.3,1123.9 542.5,1125.9 542.9,1121.4 543.3,1116.8 543.6,1115.1 544,1114.1 544.3,1114.5 544.7,1116.8 545.1,1112.6 545.4,1108.7 545.8,1113.7 546.1,1116.8 546.5,1111.2 546.9,1106 547.2,1106.5 547.6,1105.1 547.9,1104.5 548.3,1106 548.7,1105.3 549,1106.9 549.4,1107.9 549.7,1106 550.1,1107.9 550.5,1111.4 550.8,1108.1 551.2,1106.9 551.5,1106.8 551.9,1104.2 552.3,1103.2 552.6,1100.6 553,1101.3 553.3,1099.7 553.7,1099.9 554.1,1097.9 554.4,1097.3 554.8,1098.8 555.1,1097.7 555.5,1096.1 555.9,1097 556.2,1097 556.6,1094.5 556.9,1093.4 557.3,1092.4 557.7,1090.7 558,1090.7 558.4,1091.6 558.7,1090.2 559.1,1089.8 559.5,1090.4 559.8,1091.6 560.2,1088.2 560.5,1084.4 560.9,1083.3 561.3,1084.1 561.6,1088.1 562,1090.7 562.4,1089.9 562.7,1089.8 563.1,1091.8 563.4,1094.3 563.8,1092.7 564.2,1091.6 564.5,1093.6 564.9,1095.2 565.2,1096.2 565.6,1094.3 566,1096.7 566.3,1096.7 566.7,1095.1 567,1093.4 567.4,1091.4 567.8,1091.6 568.1,1090.8 568.5,1092.5 568.8,1092.7 569.2,1090.7 569.6,1089.5 569.9,1091.3 570.3,1089.4 570.6,1088.9 571,1089.9 571.4,1090.7 571.7,1089.7 572.1,1091.6 572.4,1091.9 572.8,1091.3 573.2,1093.1 573.5,1092.5 573.9,1093.9 574.2,1094.3 574.5,1096.7 574.8,1097.9 575.1,1097.3 575.5,1095.2 575.9,1094.3 576.2,1092.5 576.6,1091.5 576.9,1093.4 577.3,1092.5 577.7,1094.3 578,1096 578.4,1096.1 578.7,1096.5 579.1,1095.2 579.5,1096.7 579.8,1096.1 580.2,1096.4 580.5,1095.2 580.9,1095.3 581.3,1097 581.6,1096.3 582,1098.5 582.3,1099.3 582.7,1099.7 583.1,1096.6 583.4,1096.1 583.8,1094.4 584.1,1091.6 584.5,1090.6 584.9,1090.7 585.2,1091.6 585.6,1091.3 585.9,1091.8 586.3,1090.7 586.7,1093.4 587,1093.4 587.4,1091.7 587.7,1089.8 588.1,1088.4 588.5,1087.1 588.8,1084.4 589.2,1083.5 589.5,1081.4 589.9,1080.8 590.3,1079 590.6,1079.9 591,1080 591.3,1077.2 591.7,1076.6 592.1,1078.1 592.4,1077.5 592.8,1075.4 593.1,1073.5 593.5,1074.5 593.9,1072.6 594.2,1070.9 594.6,1067.7 594.9,1066.4 595.3,1064.9 595.7,1061.9 596,1061.7 596.4,1063.7 596.7,1066.3 597.1,1067.3 597.5,1066.9 597.8,1064.6 598.2,1066.6 598.5,1068.2 598.9,1067.4 599.3,1066.4 599.6,1068.1 600,1070 600.3,1070.2 600.7,1069.1 601.1,1069.4 601.4,1070 601.8,1069.8 602.1,1067.3 602.5,1065 602.9,1064.6 603.2,1061.2 603.6,1060.1 603.9,1058.1 604.3,1055.6 604.7,1053.3 605,1052.9 605.4,1050.2 605.7,1049.3 606.1,1046.6 606.5,1043 606.8,1042.2 607.2,1038.5 607.5,1034.3 607.9,1032.2 608.3,1030.6 608.6,1030.4 609,1028.3 609.3,1027.7 609.7,1026.3 610.1,1025.9 610.4,1028.6 610.8,1030.4 611.2,1030.1 611.5,1029.5 611.9,1031.4 612.2,1034.9 612.6,1033.4 613,1029.5 613.2,1020.4 613.5,1013.3 613.9,1013.7 614.2,1015.1 614.5,1024.8 614.8,1032.2 615,1028.9 615.3,1024.1 615.7,1029.2 616,1033.1 616.4,1030.1 616.7,1028.6 617.1,1030.5 617.5,1034 617.8,1035.9 618.2,1036.7 618.4,1040.3 618.7,1045.2 619.1,1039.6 619.4,1035.8 619.8,1033.2 620.2,1030.4 620.4,1025.9 620.7,1021.4 621.1,1024.7 621.4,1028.6 621.8,1027 622.1,1023.2 622.5,1024.8 622.9,1027.7 623.2,1026.8 623.6,1023.2 623.9,1025.9 624.3,1029.5 624.7,1024.5 625,1022.3 625.3,1021.7 625.6,1021.8 625.8,1027.6 626.1,1034.9 626.5,1036 626.8,1039.4 627.2,1037.1 627.5,1035.8 627.9,1037.8 628.3,1040.3 628.6,1045.4 629,1052 629.3,1054.9 629.7,1056.5 630.1,1057.5 630.4,1055.6 630.8,1056.7 631.1,1060.1 631.4,1060.9 631.7,1063.7 632,1059.2 632.4,1055.6 632.8,1054.9 633.1,1052 633.5,1048.4 633.8,1045.7 634.2,1044.2 634.6,1041.2 634.9,1039.2 635.3,1038.5 635.6,1038.6 636,1040.3 636,1042.1 636.4,1041.7 636.7,1043.9 637.1,1040.1 637.4,1038.5 637.8,1039.8 638.2,1041.2 638.5,1039.1 638.9,1035.8 639.2,1038.7 639.6,1040.3 640,1042.4 640.3,1046.6 640.7,1039.5 641,1034 641.4,1031.1 641.8,1026.8 642.1,1025.3 642.5,1021.8 642.8,1022.9 643.2,1023.2 643.6,1029.1 643.9,1036.7 644.3,1038.3 644.6,1038.5 645,1041.2 645.4,1041.2 645.6,1046.1 645.9,1053.8 646.3,1048.7 646.6,1043 647,1044.3 647.3,1047.5 647.7,1045.7 648.1,1042.1 648.3,1047.3 648.6,1051.1 649,1055.5 649.3,1059.2 649.7,1056.6 650,1052 650.4,1054 650.8,1055.6 651,1050.7 651.3,1043 651.6,1047.6 651.8,1052 652.2,1053.9 652.6,1058.3 652.9,1059.2 653.3,1061 653.6,1062 654,1064.6 654.4,1067.9 654.7,1070 655.1,1065.8 655.4,1063.7 655.8,1060.2 656.2,1057.4 656.5,1057.7 656.9,1061 657.2,1059.7 657.6,1055.6 658,1054.2 658.3,1052 658.7,1053.1 659,1052.9 659.4,1052.2 659.8,1050.2 660.1,1051.6 660.5,1052 660.8,1049.3 661.2,1049.3 661.6,1049.8 661.9,1052 662.2,1048.6 662.5,1046.6 662.8,1049.1 663.2,1050.2 663.6,1051.5 663.9,1054.7 664.3,1054.8 664.6,1056.5 665,1054.9 665.4,1054.7 665.7,1053.7 666.1,1052.9 666.4,1051 666.8,1051.1 667.2,1049.8 667.5,1049.3 667.9,1049.7 668.2,1047.5 668.6,1046.9 669,1044.8 669.3,1042.7 669.7,1043 670,1043 670.4,1041.2 670.8,1041.6 671.1,1040.9 671.5,1042.3 671.8,1042.1 672.2,1044.6 672.6,1048.4 672.9,1053.1 673.3,1055.6 673.6,1058.3 674,1058.3 674.4,1057 674.7,1056.5 675.1,1055.3 675.4,1054.7 675.8,1053.1 676.2,1052 676.5,1052.3 676.9,1050.2 677.2,1046.8 677.6,1044.8 678,1041.1 678.3,1040.3 678.7,1037.3 679,1036.7 679.3,1033.2 679.6,1031.9 679.9,1032.8 680.3,1036.7 680.7,1034.6 681,1034.9 681.4,1036.4 681.7,1037.6 682.1,1035.7 682.5,1035.8 682.8,1037.4 683.2,1036.7 683.5,1041 683.9,1044.8 684.3,1047.9 684.6,1052 685,1057 685.3,1061.9 685.7,1059.1 686.1,1057.4 686.4,1060.2 686.8,1061.9 687.1,1059.8 687.5,1055.6 687.9,1051.8 688.2,1048.4 688.6,1047.3 688.9,1043.9 689.3,1043.9 689.7,1042.1 690,1040.1 690.4,1036.7 690.7,1042.4 691.1,1045.7 691.5,1044.8 691.8,1043 692.2,1044.1 692.5,1047.5 692.9,1045.5 693.3,1041.2 693.6,1041.3 694,1039.4 694.3,1041.6 694.7,1045.7 695.1,1041.9 695.4,1038.5 695.8,1042.6 696.1,1046.6 696.5,1044.1 696.9,1039.4 697.2,1039.4 697.6,1041.2 697.9,1044.1 698.3,1045.7 698.7,1044.4 699,1043.9 699.4,1048 699.7,1049.3 700.1,1050.6 700.5,1053.8 700.8,1052.3 701.2,1052 701.5,1054.4 701.9,1054.7 702.3,1051.7 702.6,1051.1 703,1048.8 703.3,1047.5 703.7,1047.9 704.1,1045.7 704.4,1041.1 704.8,1038.5 705.1,1039.5 705.5,1037.6 705.9,1035.4 706.2,1035.8 706.6,1035.6 706.9,1034.9 707.3,1040.3 707.7,1045.7 708,1049.8 708.4,1051.1 708.7,1050.4 709.1,1050.2 709.5,1052.3 709.8,1054.7 710.2,1053.8 710.5,1052 710.9,1055.5 711.3,1059.2 711.5,1065.1 711.8,1071.8 712.1,1073.5 712.4,1073.6 712.6,1077.1 712.9,1082.6 713.2,1090.4 713.4,1098.8 713.8,1124.1 714.2,1147.5 714.5,1156.5 714.8,1151.1 715.1,1145.7 715.3,1140.4 715.6,1136.7 715.9,1133.5 716.1,1131.3 716.4,1125.2 716.7,1120.4 716.9,1114.5 717.2,1106 717.5,1101.4 717.8,1099.7 718.1,1106.3 718.5,1115 718.8,1109 719.2,1104.2 719.6,1101.3 719.9,1100.6 720.3,1099.7 720.6,1096.1 721,1096.3 721.4,1093.4 721.7,1095.7 722.1,1095.2 722.4,1091.2 722.8,1089.8 723.2,1089.2 723.5,1086.2 723.9,1085.8 724.2,1082.6 724.6,1079.8 725,1075.4 725.2,1071.7 725.5,1065.5 725.8,1073.8 726,1082.6 726.4,1078.7 726.8,1073.6 727.1,1081 727.5,1086.2 727.8,1082.9 728.2,1079 728.6,1074.1 728.9,1071.8 729.3,1076 729.6,1081.7 730,1077.9 730.4,1076.3 730.7,1073.5 731.1,1070 731.4,1074.9 731.8,1080.8 732.2,1084.1 732.5,1086.2 732.9,1084.8 733.2,1081.7 733.6,1083 734,1084.4 734.3,1085.2 734.7,1088.9 735,1090.9 735.4,1091.6 735.8,1095.3 736.1,1096.1 736.5,1095.3 736.8,1094.3 737.2,1097.5 737.6,1098.8 737.9,1101.6 738.3,1103.3 738.6,1105 739,1105.1 739.4,1105 739.7,1106 740.1,1110.7 740.4,1113.2 740.8,1114.9 741.2,1116.8 741.5,1113.6 741.9,1110.5 742.2,1108.2 742.6,1107.8 743,1112 743.3,1114.1 743.7,1116.4 744,1118.6 744.4,1120.9 744.8,1122.2 745.1,1124.1 745.5,1125 745.8,1114 746,1106 746.3,1098.8 746.6,1091.6 746.9,1088.6 747.3,1088 747.6,1084.2 748,1080.8 748.4,1078 748.7,1075.4 749.1,1073 749.4,1070 749.8,1067.5 750.2,1066.4 750.5,1065.3 750.9,1064.6 751.2,1067.7 751.6,1068.2 752,1075.3 752.3,1080.5 752.7,1076 753,1070 753.4,1068.5 753.8,1066.4 754.1,1062.6 754.5,1059.2 754.8,1054.8 755.2,1052 755.6,1049.9 755.9,1055.4 756.3,1063.7 756.6,1065.1 757,1066.4 757.4,1070.6 757.7,1072.7 758.1,1068.2 758.4,1061.9 758.8,1057.6 759.2,1055.6 759.5,1057.4 759.9,1061 760.2,1059.3 760.6,1059.2 761,1061.9 761.3,1063.7 761.7,1063 762.1,1060.1 762.4,1059.8 762.8,1061 763.1,1059 763.5,1058.3 763.9,1058.9 764.2,1060.1 764.6,1060.4 764.9,1058.3 765.3,1059.7 765.7,1059.2 766,1060.2 766.4,1062.8 766.7,1065.3 767.1,1066.4 767.5,1065 767.8,1064.6 768.2,1067.2 768.5,1067.3 768.9,1066.1 769.3,1062.8 769.6,1063 770,1060.1 770.3,1059.3 770.7,1061 771.1,1062.7 771.4,1067.3 771.8,1068.3 772.1,1068.2 772.5,1064.9 772.9,1062.8 773.2,1057.9 773.6,1055.6 773.9,1054.1 774.3,1053.8 774.7,1053.6 775,1052 775.4,1053.4 775.7,1053.8 776.1,1055.2 776.5,1055.6 776.8,1057.8 777.2,1060.1 777.5,1062.9 777.9,1063.7 778.3,1067.1 778.6,1070 779,1072.4 779.3,1071.8 779.7,1071.2 780.1,1070.9 780.4,1071.5 780.8,1074.5 781.1,1077.1 781.5,1079.9 781.9,1079.5 782.2,1076.3 782.6,1077.1 782.9,1075.4 783.3,1076 783.7,1074.5 784,1072.6 784.4,1072.7 784.7,1068.8 785.1,1067.3 785.4,1065.7 785.6,1064.6"/>
</g>
<g>
<rect class="bd" x="23" y="1286" width="359" height="294"/>
<rect class="pn" x="24" y="1287" width="357" height="292"/>
<rect class="pl" x="63" y="1331" width="299.5" height="193"/>
<rect class="g" x="60" y="1331" width="302.5" height="1"/>
<text class="ax yl" x="54.8" y="1334.8">600</text>
<rect class="g" x="60" y="1355" width="302.5" height="1"/>
<text class="ax yl" x="54.8" y="1358.8">550</text>
<rect class="g" x="60" y="1379" width="302.5" height="1"/>
<text class="ax yl" x="54.8" y="1382.8">500</text>
<rect class="g" x="60" y="1403" width="302.5" height="1"/>
<text class="ax yl" x="54.8" y="1406.8">450</text>
<rect class="g" x="60" y="1427" width="302.5" height="1"/>
<text class="ax yl" x="54.8" y="1430.8">400</text>
<rect class="g" x="60" y="1451" width="302.5" height="1"/>
<text class="ax yl" x="54.8" y="1454.8">350</text>
<rect class="g" x="60" y="1475" width="302.5" height="1"/>
<text class="ax yl" x="54.8" y="1478.8">300</text>
<rect class="g" x="60" y="1499" width="302.5" height="1"/>
<text class="ax yl" x="54.8" y="1502.8">250</text>
<rect class="g" x="60" y="1523" width="302.5" height="1"/>
<text class="ax yl" x="54.8" y="1526.8">200</text>
<rect class="g" x="63" y="1331" width="1" height="193"/>
<rect class="g" x="63" y="1523" width="1" height="5"/>
<text class="ax xl" x="63.7" y="1540" textLength="28.2" lengthAdjust="spacingAndGlyphs">Jul-15</text>
<rect class="g" x="112" y="1523" width="1" height="5"/>
<text class="ax xl" x="112.7" y="1540" textLength="28.2" lengthAdjust="spacingAndGlyphs">Jul-16</text>
<rect class="g" x="161" y="1523" width="1" height="5"/>
<text class="ax xl" x="161.7" y="1540" textLength="28.2" lengthAdjust="spacingAndGlyphs">Jul-17</text>
<rect class="g" x="210" y="1523" width="1" height="5"/>
<text class="ax xl" x="210.7" y="1540" textLength="28.2" lengthAdjust="spacingAndGlyphs">Jul-18</text>
<rect class="g" x="260" y="1523" width="1" height="5"/>
<text class="ax xl" x="260.7" y="1540" textLength="28.2" lengthAdjust="spacingAndGlyphs">Jul-19</text>
<rect class="g" x="309" y="1523" width="1" height="5"/>
<text class="ax xl" x="309.7" y="1540" textLength="28.2" lengthAdjust="spacingAndGlyphs">Jul-20</text>
<rect class="g" x="358" y="1523" width="1" height="5"/>
<text class="ax xl" x="358.7" y="1540" textLength="28.2" lengthAdjust="spacingAndGlyphs">Jul-21</text>
<text class="tt" x="202.7" y="1308.8" textLength="88.9" lengthAdjust="spacingAndGlyphs">SET - Services</text>
<text class="rvc" x="371.1" y="1310" textLength="18.6" lengthAdjust="spacingAndGlyphs">RVC</text>
<polyline class="ln" points="63.5,1448 63.8,1447.4 64.1,1447.2 64.4,1446.2 64.7,1445.7 65,1446.9 65.3,1445.3 65.6,1444.5 65.9,1448 66.2,1447.1 66.6,1450 67,1451.6 67.2,1455.3 67.5,1457.1 67.8,1453 68,1447.1 68.4,1444.9 68.8,1444.4 69.1,1446.8 69.5,1447.1 69.8,1446.7 70.2,1445.3 70.6,1445.6 70.9,1448 71.3,1448.2 71.6,1446.2 72,1447.4 72.4,1448.9 72.7,1448.3 73.1,1446.2 73.4,1443.6 73.8,1443.5 74.1,1443.8 74.4,1441.5 74.7,1442.6 75,1441.6 75.3,1442.1 75.6,1443.5 75.9,1441.8 76.2,1443 76.5,1442.3 76.8,1442.2 77.1,1442.8 77.4,1444.4 77.7,1444.5 78,1443.5 78.3,1441.7 78.6,1441.7 78.9,1441.5 79.2,1442.6 79.5,1442 79.7,1439.9 80.1,1441.4 80.5,1442.6 80.8,1444 81.2,1446.2 81.5,1446.6 81.9,1448 82.3,1446.3 82.6,1445.3 83,1445.8 83.3,1446.2 83.7,1443.9 84.1,1443.5 84.4,1443 84.8,1445.3 85.1,1443.4 85.5,1441.7 85.9,1442.2 86.2,1444.4 86.6,1441.3 86.9,1440.8 87.3,1441.1 87.7,1442.6 88,1441.8 88.4,1439.9 88.8,1441.8 89.1,1441.7 89.5,1439 89.8,1439 90.2,1440.9 90.6,1440.8 90.9,1438.5 91.3,1437.2 91.6,1438.8 92,1438.1 92.4,1437.1 92.7,1433.6 93.1,1430.8 93.4,1429.1 93.8,1430.9 94.2,1431.8 94.5,1430.2 94.9,1428.2 95.2,1427.9 95.6,1429.1 96,1429.2 96.3,1426.4 96.7,1426.5 97,1425.5 97.4,1427.8 97.8,1427.3 98.1,1424.9 98.5,1424.6 98.8,1423.5 99.2,1423.7 99.6,1424.1 99.9,1421.9 100.3,1422.2 100.6,1423.7 101,1423.6 101.4,1424.3 101.7,1423.3 102.1,1423.7 102.4,1425.2 102.8,1424.6 103.2,1424.9 103.5,1426.4 103.9,1424.9 104.2,1425.5 104.6,1423.5 105,1423.7 105.3,1424.4 105.7,1422.5 106,1420.4 106.4,1421 106.8,1420.9 107.1,1422.8 107.5,1421 107.8,1420.1 108.2,1419.4 108.6,1418.3 108.9,1418 109.3,1415.6 109.6,1417.5 110,1416.5 110.4,1415.6 110.7,1414.7 111.1,1415.7 111.4,1415.6 111.8,1413.7 112.2,1412.9 112.5,1413.4 112.9,1413.8 113.2,1410.6 113.6,1410.2 114,1411.9 114.3,1412 114.7,1408.5 115,1404.8 115.4,1404.9 115.8,1403.9 116.1,1405.4 116.5,1404.8 116.8,1405.3 117.2,1403.9 117.5,1408.5 117.7,1410.2 118,1413.6 118.3,1415.6 118.6,1417.2 118.8,1421 119.1,1422.1 119.4,1424.3 119.6,1419.4 119.9,1413.8 120.3,1411.8 120.6,1412 121,1413.1 121.3,1414.7 121.7,1412.1 122.1,1410.2 122.4,1409.6 122.8,1411.1 123.1,1419 123.3,1427.3 123.6,1422 123.9,1415.6 124.2,1414.2 124.6,1410.2 124.9,1411.2 125.3,1411.1 125.7,1410.6 126,1409.3 126.4,1408.8 126.7,1410.2 127.1,1413.5 127.5,1413.8 127.8,1411.9 128.2,1408.4 128.5,1409.9 128.9,1410.2 129.3,1407.9 129.6,1405.7 130,1406.4 130.3,1406.6 130.7,1406.3 131.1,1408.4 131.4,1407.4 131.8,1407.5 132.1,1405.7 132.5,1406.6 132.9,1407.6 133.2,1405.7 133.6,1404.4 133.9,1403.9 134.3,1405.3 134.7,1405.7 135,1406 135.4,1404.8 135.7,1405.6 136.1,1406.6 136.5,1407.6 136.8,1405.7 137.2,1408.1 137.5,1407.5 137.9,1407 138.3,1406.6 138.6,1405.7 139,1407.5 139.4,1409.3 139.7,1409.3 140.1,1410.3 140.4,1411.1 140.8,1411 141.2,1413.8 141.5,1415.4 141.9,1415.6 142.2,1416.4 142.6,1416.5 143,1418.4 143.3,1417.4 143.7,1416.8 144,1415.6 144.4,1414 144.8,1412.9 145.1,1411.3 145.5,1412 145.8,1410.6 146.2,1411.1 146.6,1411.4 146.9,1410.2 147.3,1412.1 147.6,1412 148,1411.1 148.4,1411.1 148.7,1411.8 149.1,1412 149.4,1411.6 149.8,1412.9 150.2,1410.5 150.5,1411.1 150.9,1410.8 151.2,1412 151.6,1411.4 152,1412.9 152.3,1413.4 152.7,1412 153,1410.3 153.4,1411.1 153.8,1409.8 154.1,1410.2 154.5,1409.1 154.8,1408.4 155.2,1409.2 155.6,1407.5 155.9,1407.3 156.3,1408.4 156.6,1407 157,1406.6 157.4,1406.5 157.7,1404.8 158.1,1404.3 158.4,1403.9 158.8,1406.5 159.2,1406.6 159.5,1405.8 159.9,1404.8 160.2,1403.7 160.6,1403.9 161,1405.6 161.3,1404.8 161.7,1404.3 162,1403 162.4,1402.4 162.8,1402.1 163.1,1402.2 163.5,1400.3 163.8,1401.2 164.2,1403 164.6,1401.7 164.9,1402.1 165.3,1400.4 165.6,1400.3 166,1397.4 166.4,1395.8 166.7,1395.4 167.1,1393.1 167.4,1391.8 167.8,1388.6 168.2,1386.3 168.5,1385.9 168.9,1383.6 169.2,1384.1 169.6,1382.3 170,1382.3 170.3,1379.9 170.7,1380.5 171,1380.3 171.4,1379.6 171.8,1377.8 172.1,1376.9 172.5,1376.9 172.8,1376 173.2,1377.3 173.6,1380.5 173.9,1378.3 174.3,1375.1 174.6,1376.8 175,1376.9 175.4,1377.2 175.7,1378.7 176.1,1378.8 176.4,1376 176.8,1374.5 177.2,1374.2 177.5,1374.4 177.9,1371.5 178.2,1372.5 178.6,1370.6 179,1373.6 179.3,1374.2 179.7,1373.5 180,1373.3 180.4,1373.3 180.8,1371.5 181.1,1371.5 181.5,1368.8 181.8,1366.6 182.2,1365.2 182.6,1363.8 182.9,1360.7 183.3,1359.8 183.6,1359.8 184,1360 184.4,1361.6 184.7,1361.9 185.1,1359.8 185.4,1360.9 185.8,1360.7 186.2,1360.6 186.5,1358.9 186.9,1358.1 187.2,1359.8 187.6,1361.8 188,1364.3 188.3,1361.1 188.7,1360.7 189.1,1361.6 189.4,1362.5 189.8,1360.4 190.1,1358 190.5,1359 190.9,1360.7 191.2,1358.4 191.6,1356.2 191.9,1358.3 192.3,1360.7 192.7,1356.6 193,1355.3 193.4,1356.3 193.7,1358 194.1,1360.1 194.5,1360.7 194.8,1358.5 195.2,1356.2 195.5,1355.6 195.9,1358 196.3,1354.9 196.6,1353.5 197,1353.1 197.3,1354.4 197.7,1352.1 198.1,1352.6 198.4,1352.1 198.8,1352.2 199.1,1353 199.5,1355.3 199.9,1354.5 200.2,1354 200.6,1356.8 200.9,1358 201.3,1358.5 201.7,1356.2 202,1357.3 202.4,1358 202.7,1357.8 203.1,1359.8 203.5,1361.9 203.8,1361.6 204.2,1363.8 204.5,1363.4 204.9,1365.1 205.3,1365.2 205.5,1368.5 205.8,1373.3 206.2,1376.5 206.5,1379.6 206.9,1380.7 207.2,1383.2 207.6,1380.1 208,1376 208.3,1379 208.7,1379.6 209,1378 209.4,1375.1 209.8,1376.5 210.1,1377.8 210.5,1375.3 210.8,1371.5 211.2,1372.3 211.6,1375.1 211.9,1373.6 212.3,1372.4 212.6,1372.9 213,1376 213,1379.6 213.3,1377.4 213.6,1376.5 213.9,1376.9 214.2,1377.3 214.5,1377.5 214.8,1378.7 215.1,1378.4 215.4,1375.4 215.7,1375.1 216,1375.7 216.3,1376.4 216.6,1376.9 217,1378.6 217.3,1381.4 217.7,1376.8 218,1373.3 218.4,1371.5 218.8,1370.6 219.1,1371.9 219.5,1372.4 219.8,1374.9 220.2,1375.1 220.6,1377.2 220.9,1379.6 221.3,1380.6 221.6,1378.7 222,1382.6 222.4,1388.6 222.7,1386.2 223.1,1382.3 223.4,1381.3 223.8,1379.6 224.2,1380.7 224.5,1380.5 224.9,1378.4 225.2,1378.7 225.6,1380.7 226,1385 226.3,1382.2 226.7,1382.3 227,1380.5 227.4,1380.5 227.8,1378.1 228.1,1375.1 228.5,1379.2 228.8,1380.5 229.2,1380 229.6,1379.6 229.9,1382.2 230.3,1383.2 230.6,1382.2 231,1384.1 231.4,1384.5 231.7,1387.7 232.1,1386 232.4,1385 232.8,1385.3 233.2,1384.1 233.5,1382.1 233.9,1382.3 234.2,1382.4 234.6,1381.4 235,1380.1 235.3,1376 235.7,1375.1 236,1373.3 236.4,1375.1 236.8,1375.1 237.1,1373.7 237.5,1372.4 237.8,1375.5 238.2,1376 238.6,1374.9 238.9,1371.5 239.3,1374.9 239.7,1376 240,1374.1 240.4,1372.4 240.7,1374.1 241.1,1375.1 241.5,1374.1 241.8,1373.9 242.2,1375 242.5,1377.8 242.9,1378.2 243.3,1376 243.6,1374.9 244,1374.2 244.3,1373.7 244.7,1375.1 245.1,1372.5 245.4,1372.4 245.8,1372.9 246.1,1371.5 246.5,1370.3 246.9,1369.7 247.2,1367.9 247.6,1368.8 247.9,1368.5 248.3,1367.9 248.7,1368.5 249,1369.7 249.4,1371 249.7,1372.4 250.1,1373.2 250.5,1375.1 250.8,1374.6 251.2,1374.2 251.5,1376 251.9,1377.8 252.3,1375.7 252.6,1374.2 253,1371.9 253.3,1371.5 253.7,1367.4 254.1,1366.1 254.4,1363.5 254.8,1360.7 255.1,1360.1 255.5,1359.8 255.9,1358 256.2,1358.9 256.6,1357 256.9,1358 257.3,1357 257.7,1357.1 258,1356.9 258.4,1358.9 258.7,1358.5 259.1,1359.8 259.5,1360.2 259.8,1360.7 260.2,1362.1 260.5,1362.5 260.9,1363 261.3,1366.1 261.6,1368.3 262,1369.7 262.2,1371.3 262.5,1372.1 262.9,1369.3 263.2,1367.9 263.6,1366.5 264,1365.2 264.3,1367.1 264.7,1366.1 265,1365.3 265.4,1361.6 265.8,1364.4 266.1,1366.1 266.5,1366.4 266.8,1367 267.2,1367.7 267.6,1368.8 267.9,1368.4 268.3,1367 268.6,1369.8 269,1369.7 269.4,1370.1 269.7,1370.6 270.1,1369.7 270.4,1367.9 270.8,1368.6 271.2,1370.6 271.5,1368.6 271.9,1368.8 272.2,1369.5 272.6,1372.4 273,1369.4 273.3,1367.9 273.7,1367.8 274,1366.1 274.4,1367.1 274.8,1369.7 275.1,1367.8 275.5,1367.9 275.8,1369.3 276.2,1371.5 276.6,1373.2 276.9,1373.3 277.3,1376.1 277.6,1376 278,1375.6 278.4,1375.1 278.7,1378.3 279.1,1378.7 279.4,1377.1 279.8,1376.9 280.2,1379.8 280.5,1379.6 280.9,1380.1 281.2,1377.8 281.6,1380.3 282,1381.4 282.3,1381.4 282.7,1378.7 283,1378 283.4,1375.1 283.7,1378.8 283.9,1380.5 284.3,1381.4 284.7,1385 285,1388.4 285.4,1392.2 285.7,1388.2 286.1,1386.8 286.5,1388.1 286.8,1387.7 287.2,1391.9 287.5,1395.8 287.9,1397.8 288.3,1401.2 288.5,1405.9 288.8,1410.2 289.1,1410.1 289.4,1408.4 289.6,1413.8 289.9,1417.4 290.2,1420 290.4,1421 290.8,1431.8 291.1,1437.2 291.3,1442.6 291.6,1446.3 291.9,1448 292.1,1451.2 292.4,1455.2 292.7,1452 293,1448 293.3,1443.4 293.7,1440.8 294,1436.6 294.4,1431.8 294.8,1427.9 295.1,1424.6 295.5,1422.7 295.8,1421 296.2,1418 296.6,1417.4 296.9,1417.5 297.3,1415.6 297.6,1413.1 298,1412.9 298.4,1415.4 298.7,1416.5 299.1,1415.3 299.4,1413.8 299.8,1416.2 300.2,1415.6 300.5,1413.4 300.9,1408.4 301.2,1407 301.6,1403 302,1401.7 302.3,1398.5 302.7,1398.6 303,1401.2 303.4,1404.9 303.8,1406.6 304.1,1404.3 304.5,1404.8 304.8,1406.8 305.2,1411.1 305.6,1410.1 305.9,1407.5 306.3,1408.8 306.6,1412 307,1411.7 307.4,1411.1 307.7,1413.8 308.1,1413.8 308.4,1413.3 308.8,1414.7 309.2,1414.7 309.5,1417.4 309.9,1415.9 310.2,1415.6 310.6,1417.2 311,1421 311.3,1417.8 311.7,1414.7 312,1416.3 312.4,1415.6 312.8,1419 313.1,1421 313.5,1418.7 313.8,1415.6 314.2,1416.6 314.6,1417.4 314.9,1417.2 315.3,1415.6 315.6,1415.7 316,1414.7 316.4,1417.1 316.7,1419.2 317.1,1419.9 317.4,1421 317.8,1421.4 318.2,1422.8 318.5,1421.9 318.9,1421.9 319.2,1423.9 319.6,1424.6 320,1425.4 320.3,1428.2 320.7,1429.5 321,1433.6 321.4,1436.9 321.8,1437.2 322.1,1436.9 322.5,1433.6 322.8,1427.8 323.2,1421 323.6,1415.6 323.9,1412 324.3,1409 324.6,1406.6 325,1406.3 325.4,1403.9 325.7,1403.3 326.1,1403 326.4,1404.7 326.8,1404.8 327.2,1404.2 327.5,1403.9 327.9,1406.4 328.2,1408.4 328.6,1412.5 329,1416.5 329.3,1414.9 329.7,1413.8 330,1415.1 330.4,1415.6 330.8,1413.2 331.1,1412.9 331.5,1414.9 331.8,1413.8 332.2,1411.2 332.6,1411.1 332.9,1411.6 333.3,1412.9 333.6,1413.2 334,1413.8 334.4,1413.7 334.7,1414.7 335.1,1412.3 335.4,1412 335.8,1409.8 336.2,1408.4 336.5,1411.7 336.9,1413.8 337.2,1412.6 337.6,1410.2 338,1407.2 338.3,1401.2 338.7,1401 339.1,1398.5 339.4,1396.8 339.8,1393.1 340.1,1394.6 340.5,1395.8 340.9,1393.2 341.2,1392.2 341.6,1390.9 341.9,1390.4 342.3,1388.6 342.7,1389.5 343,1393.2 343.4,1394 343.7,1394.6 344.1,1397.6 344.5,1397.8 344.8,1395.8 345.2,1396.6 345.5,1399.4 345.9,1398.9 346.3,1398.5 346.6,1398.8 347,1401.2 347.3,1401.6 347.7,1403 348.1,1405.8 348.4,1407.5 348.8,1405.4 349.1,1403 349.5,1401.3 349.9,1400.3 350.2,1397.9 350.6,1396.7 350.9,1396 351.3,1393.1 351.7,1391.8 352,1390.4 352.4,1391.3 352.7,1389.5 353.1,1392.4 353.5,1394 353.8,1394.1 354.2,1394.9 354.5,1397.2 354.9,1396.7 355.3,1395.9 355.6,1397.6 356,1399.6 356.3,1399.4 356.7,1400.3 357.1,1400.3 357.4,1400.6 357.8,1403 358.1,1402.9 358.5,1404.8 358.9,1404.7 359.2,1403.9 359.6,1404.8 359.9,1408.4 360.3,1406.6 360.7,1404.8 361,1401.8 361.4,1399.4 361.7,1396.5 362.1,1394"/>
</g>
<g>
<rect class="bd" x="448" y="1290" width="358" height="294"/>
<rect class="pn" x="449" y="1291" width="356" height="292"/>
<rect class="pl" x="488" y="1334" width="299.1" height="194"/>
<rect class="g" x="485" y="1334" width="302.1" height="1"/>
<text class="ax yl" x="478.8" y="1338.8">300</text>
<rect class="g" x="485" y="1373" width="302.1" height="1"/>
<text class="ax yl" x="478.8" y="1377.8">250</text>
<rect class="g" x="485" y="1412" width="302.1" height="1"/>
<text class="ax yl" x="478.8" y="1416.8">200</text>
<rect class="g" x="485" y="1450" width="302.1" height="1"/>
<text class="ax yl" x="478.8" y="1454.8">150</text>
<rect class="g" x="485" y="1489" width="302.1" height="1"/>
<text class="ax yl" x="478.8" y="1493.8">100</text>
<rect class="g" x="485" y="1527" width="302.1" height="1"/>
<text class="ax yl" x="478.8" y="1531.8">50</text>
<rect class="g" x="488" y="1334" width="1" height="194"/>
<rect class="g" x="488" y="1527" width="1" height="5"/>
<text class="ax xl" x="488.7" y="1544" textLength="28.2" lengthAdjust="spacingAndGlyphs">Jul-15</text>
<rect class="g" x="537" y="1527" width="1" height="5"/>
<text class="ax xl" x="537.7" y="1544" textLength="28.2" lengthAdjust="spacingAndGlyphs">Jul-16</text>
<rect class="g" x="586" y="1527" width="1" height="5"/>
<text class="ax xl" x="586.7" y="1544" textLength="28.2" lengthAdjust="spacingAndGlyphs">Jul-17</text>
<rect class="g" x="635" y="1527" width="1" height="5"/>
<text class="ax xl" x="635.7" y="1544" textLength="28.2" lengthAdjust="spacingAndGlyphs">Jul-18</text>
<rect class="g" x="684" y="1527" width="1" height="5"/>
<text class="ax xl" x="684.7" y="1544" textLength="28.2" lengthAdjust="spacingAndGlyphs">Jul-19</text>
<rect class="g" x="733" y="1527" width="1" height="5"/>
<text class="ax xl" x="733.7" y="1544" textLength="28.2" lengthAdjust="spacingAndGlyphs">Jul-20</text>
<rect class="g" x="782" y="1527" width="1" height="5"/>
<text class="ax xl" x="782.7" y="1544" textLength="28.2" lengthAdjust="spacingAndGlyphs">Jul-21</text>
<text class="tt" x="627.6" y="1311.5" textLength="108.7" lengthAdjust="spacingAndGlyphs">SET - Technology</text>
<text class="rvc" x="796.3" y="1313" textLength="18.6" lengthAdjust="spacingAndGlyphs">RVC</text>
<polyline class="ln" points="488.5,1395.2 488.8,1395.3 489.1,1396.8 489.4,1397 489.7,1396.8 490,1400.9 490.3,1400.6 490.6,1402.5 490.9,1403.9 491.2,1403.3 491.6,1404.9 492,1407.8 492.3,1404.7 492.7,1403.3 493,1400.6 493.4,1400.6 493.8,1398.8 494.1,1398.8 494.5,1399.6 494.8,1403.3 495.2,1403 495.6,1401.5 495.9,1403.4 496.3,1406 496.6,1409.2 497,1410.5 497.4,1408.6 497.7,1405.1 498.1,1402.9 498.4,1401.5 498.8,1401.4 499.2,1403.3 499.5,1401.1 499.9,1399.7 500.2,1399.7 500.6,1402.4 501,1402.4 501.3,1401.5 501.7,1401.9 502,1404.2 502.3,1407.7 502.6,1413.2 502.9,1414.8 503.3,1414.1 503.7,1415.3 504,1416.8 504.4,1420.9 504.7,1422.2 505.1,1424.6 505.5,1424 505.8,1424.1 506.2,1423.1 506.5,1426 506.9,1430.3 507.2,1424.3 507.4,1420.4 507.7,1429.6 508,1440.2 508.3,1445.5 508.7,1449.2 509.1,1451.1 509.4,1452.8 509.8,1455.4 510.1,1459.2 510.5,1453.7 510.9,1451 511.2,1449.2 511.6,1448.3 511.9,1447.1 512.3,1446.5 512.7,1443.9 513,1443.8 513.4,1442.2 513.8,1442 514.1,1443.2 514.5,1445.6 514.8,1444.5 515.2,1443.8 515.6,1445.2 515.9,1446.5 516.3,1444 516.6,1441.1 517,1439.9 517.4,1436.6 517.7,1433.8 518.1,1432.1 518.4,1433.6 518.8,1437.5 519.2,1434.7 519.5,1433 519.9,1428.6 520.2,1425.8 520.6,1430.1 521,1433.9 521.3,1432.5 521.7,1431.2 522,1437 522.4,1443.8 522.8,1443.5 523.1,1445.6 523.5,1445 523.8,1442.9 524.2,1442.9 524.6,1442 524.9,1443.8 525.3,1444.7 525.6,1444.9 526,1443.8 526.4,1446.3 526.7,1446.5 527.1,1446.1 527.4,1448.3 527.8,1445.6 528.2,1444.7 528.5,1445.6 528.9,1446.5 529.2,1444.9 529.6,1442 530,1441.2 530.3,1440.2 530.7,1441.2 531,1442 531.4,1441 531.8,1441.1 532.1,1441.7 532.5,1443.8 532.8,1444.1 533.2,1442 533.6,1443.9 533.9,1442.9 534.3,1440.7 534.6,1438.4 535,1436.1 535.4,1433.9 535.7,1431.5 536.1,1431.2 536.4,1430.6 536.8,1429.4 537.2,1428.1 537.5,1428.5 537.9,1429.8 538.2,1430.3 538.6,1428.3 539,1427.6 539.2,1426.6 539.5,1425.8 539.9,1430.1 540.2,1432.1 540.6,1431.1 540.9,1431.2 541.3,1433.1 541.7,1434.8 542,1435.6 542.4,1437.5 542.7,1438.8 543.1,1440.2 543.4,1444.5 543.6,1446.5 544,1441.6 544.4,1436.6 544.7,1439.4 545.1,1439.3 545.4,1438.2 545.8,1437.5 546.2,1438.8 546.5,1440.2 546.9,1444.3 547.2,1447.4 547.6,1443.8 548,1440.2 548.3,1441.2 548.7,1441.1 549,1440.1 549.4,1440.2 549.8,1439.7 550.1,1442 550.5,1440.9 550.8,1440.2 551.1,1437.6 551.4,1437.5 551.7,1439 552.1,1442 552.5,1442.8 552.8,1442.9 553.2,1443.1 553.5,1442 553.9,1444.9 554.3,1445.3 554.6,1444.6 555,1442.9 555.3,1442.7 555.7,1442 556.1,1442 556.4,1442.9 556.8,1442 557.1,1441.1 557.5,1441 557.9,1442 558.2,1439.5 558.6,1439.3 558.9,1438.1 559.3,1436.6 559.7,1436.1 560,1434.8 560.4,1433.8 560.7,1433.9 561.1,1435.6 561.5,1435.7 561.8,1434.5 562.2,1433 562.5,1432.9 562.9,1433.9 563.3,1433.6 563.6,1431.2 564,1430.3 564.4,1432.1 564.7,1431.7 565.1,1432.7 565.4,1433.2 565.8,1434.8 566.2,1434.9 566.5,1433.9 566.9,1434.1 567.2,1435.7 567.6,1437.6 568,1436.6 568.3,1433.7 568.7,1433 569,1432.4 569.4,1432.1 569.8,1430.7 570.1,1429.4 570.5,1429.7 570.8,1428.5 571.2,1428.7 571.6,1430.3 571.9,1428.9 572.3,1429.4 572.6,1431.1 573,1431.2 573.4,1432.6 573.7,1432.1 574.1,1431.7 574.4,1430.9 574.8,1432.4 575.2,1431.6 575.5,1430.7 575.9,1430.3 576.2,1430.6 576.6,1431.2 577,1431.7 577.3,1432.1 577.7,1430.1 578,1430.3 578.4,1431.8 578.8,1431.2 579.1,1430.6 579.5,1432.7 579.8,1429.8 580.2,1429.4 580.6,1430.2 580.9,1428.5 581.3,1427.5 581.6,1426.7 582,1426.1 582.4,1427.6 582.7,1429.7 583.1,1429.4 583.4,1427.4 583.8,1427.3 584.2,1426.9 584.5,1426.7 584.9,1424.7 585.2,1425.5 585.6,1425.5 586,1427.6 586.3,1427.1 586.7,1426.7 587,1428.7 587.4,1429.4 587.8,1428.8 588.1,1430.3 588.5,1432.5 588.8,1433 589.2,1433.3 589.6,1432.7 589.9,1434.3 590.3,1434.8 590.6,1434.4 591,1431.2 591.4,1429.4 591.7,1427.6 592.1,1424.8 592.4,1424.9 592.8,1422.7 593.2,1423.1 593.5,1423.8 593.9,1422.2 594.2,1422.4 594.6,1424.9 595,1423.4 595.3,1423.1 595.7,1424 596,1424 596.4,1423.7 596.8,1421.9 597.1,1424.2 597.5,1424.9 597.8,1424.7 598.2,1424 598.6,1424.4 598.9,1425.8 599.3,1429.3 599.6,1430.3 600,1429.8 600.4,1432.1 600.7,1432.3 601.1,1433.9 601.4,1435 601.8,1433 602.2,1433.5 602.5,1435.7 602.9,1437.7 603.2,1437.5 603.6,1436.9 604,1435.7 604.3,1435.7 604.7,1434.8 605,1434.3 605.4,1433 605.8,1432.4 606.1,1432.1 606.5,1434.1 606.8,1433.9 607.2,1429.5 607.6,1427.6 607.9,1426.5 608.3,1426.7 608.6,1428 609,1427.6 609.4,1428.8 609.7,1428.5 610.1,1427.6 610.4,1425.8 610.8,1427.3 611.2,1427.6 611.5,1427.9 611.9,1429.4 612.2,1430.6 612.6,1431.2 613,1431 613.3,1430.3 613.7,1432.6 614.1,1433 614.4,1433.1 614.8,1434.8 615.1,1432.8 615.5,1432.1 615.9,1432.1 616.2,1433 616.6,1430.4 616.9,1429.4 617.3,1428.8 617.7,1426.7 618,1427.2 618.4,1427.6 618.7,1427.2 619.1,1429.4 619.5,1431.5 619.8,1431.2 620.2,1432.2 620.5,1433 620.9,1432.2 621.3,1429.4 621.6,1430.6 622,1430.3 622.3,1428.2 622.7,1426.7 623.1,1426.6 623.4,1427.6 623.8,1427.1 624.1,1426.2 624.5,1430 624.9,1431.2 625.2,1435.3 625.6,1437.5 625.9,1437.6 626.3,1434.8 626.7,1435.5 627,1435.7 627.4,1435.4 627.7,1434.8 628.1,1435.1 628.5,1436.6 628.8,1436.3 629.2,1435.7 629.5,1437.3 629.9,1438.4 630.3,1441.5 630.6,1442.9 631,1446.2 631.3,1447.4 631.7,1446.8 632.1,1443.8 632.4,1441.8 632.8,1441.1 633.1,1440.7 633.5,1439.3 633.9,1437.1 634.2,1437.5 634.6,1436.4 634.9,1436.6 635.3,1436.1 635.7,1434.8 636,1432.9 636.4,1433.9 636.7,1434.4 637.1,1432.7 637.5,1432.5 637.8,1432.1 638,1434.8 638.3,1433.2 638.6,1432.8 638.9,1432.1 639.2,1434.1 639.5,1433.3 639.8,1435.7 640.1,1435.8 640.4,1433.8 640.7,1432.1 641,1432.5 641.3,1431.8 641.6,1433 641.9,1433.3 642.2,1432 642.5,1432.7 642.8,1431.8 643.1,1434.6 643.4,1433.9 643.7,1433.8 644,1435.4 644.3,1434.8 644.6,1435.4 644.9,1436.2 645.2,1436.6 645.5,1436.6 645.8,1438.2 646.1,1437.5 646.4,1439.3 646.7,1439 647,1440.2 647.3,1439.5 647.6,1437.8 647.9,1437.5 648.2,1440.3 648.5,1440.4 648.8,1442 649.1,1442.9 649.4,1443.5 649.7,1443.8 650,1442.3 650.3,1442.7 650.6,1442.9 650.9,1444.7 651.2,1445 651.5,1445.6 651.8,1444.6 652.1,1444 652.4,1444.7 652.7,1447 653,1448.1 653.3,1448.3 653.6,1449.8 653.9,1448 654.2,1449.2 654.5,1450.3 654.8,1450.9 655.1,1451.9 655.4,1452 655.7,1452.1 656,1452.8 656.3,1452.7 656.6,1451.9 656.9,1451 657.2,1450.1 657.5,1450.3 657.8,1451.9 658.1,1451.3 658.4,1453.5 658.7,1452.8 659,1452.4 659.3,1450.4 659.6,1448.3 659.9,1446.4 660.2,1445.4 660.5,1443.8 660.8,1443.1 661.1,1440.5 661.4,1440.2 661.7,1442.2 662,1442.7 662.3,1442 662.6,1440.3 662.9,1440.7 663.2,1441.1 663.5,1441.4 663.8,1444 664.1,1443.8 664.4,1444.5 664.7,1444 665,1442 665.3,1442.1 665.6,1442.8 665.9,1442.9 666.2,1441.7 666.5,1440.9 666.8,1442 667.1,1442.8 667.4,1442.8 667.7,1442.9 668,1443.5 668.3,1443 668.6,1441.1 668.9,1440.4 669.2,1438 669.5,1438.4 669.8,1438.1 670.1,1438.5 670.4,1436.6 670.7,1436.9 671,1437.7 671.3,1437.5 671.6,1437.9 671.9,1438 672.2,1438.4 672.5,1438.8 672.8,1438.8 673.1,1440.2 673.4,1439.8 673.7,1440.5 674,1439.3 674.3,1441.6 674.6,1440.9 674.9,1443.8 675.2,1443.3 675.5,1443.2 675.8,1444.7 676.1,1442.6 676.4,1441.5 676.7,1442 677,1442.4 677.3,1440.6 677.6,1441.1 677.9,1441 678.2,1440.9 678.5,1439.3 678.8,1437.4 679.1,1436.8 679.4,1436.6 679.7,1434 680,1432.5 680.3,1432.1 680.6,1432.1 680.9,1430.3 681.2,1427.6 681.5,1429.3 681.8,1427.3 682.1,1428.5 682.4,1427.4 682.7,1426.9 683,1425.8 683.3,1425.4 683.6,1428.1 683.9,1428.5 684.2,1429.1 684.5,1428.6 684.8,1426.7 685.2,1431 685.5,1433 685.9,1428.4 686.3,1424.9 686.6,1428.1 687,1429.4 687.3,1425.4 687.7,1423.1 688.1,1425.3 688.4,1427.6 688.8,1423.7 689.1,1422.2 689.5,1421.5 689.9,1423.1 690.2,1425 690.6,1429.4 690.9,1428.6 691.3,1428.5 691.7,1431.5 692,1433 692.4,1432.8 692.7,1432.1 693.1,1430.7 693.5,1431.2 693.8,1428.8 694.2,1427.6 694.5,1429.5 694.9,1432.1 695.3,1428 695.6,1426.2 696,1425.9 696.3,1427.6 696.7,1431.2 697.1,1432.1 697.4,1431.2 697.8,1428.5 698.1,1430 698.5,1430.3 698.9,1430 699.2,1432.1 699.6,1434.4 699.9,1436.6 700.3,1438.4 700.7,1438.4 701,1441.2 701.4,1442 701.7,1440.8 702.1,1441.1 702.5,1438.5 702.8,1436.6 703.2,1438.3 703.5,1439.3 703.9,1437.4 704.3,1437.5 704.6,1439.2 705,1440.2 705.3,1437.6 705.7,1437.5 706.1,1438.9 706.4,1438.4 706.8,1438.5 707.1,1440.2 707.5,1438.5 707.9,1437.5 708.2,1438.6 708.6,1438.4 708.9,1441.4 709.3,1443.8 709.7,1446.2 710,1445.6 710.4,1443.9 710.7,1441.1 711.1,1443.1 711.5,1446.5 711.8,1443.2 712.2,1442 712.5,1446.5 712.9,1449.2 713.3,1450.8 713.6,1451 714,1452.8 714.4,1456.4 714.6,1461 714.9,1463.7 715.2,1468.7 715.4,1474.5 715.7,1473.1 716,1473.6 716.2,1466.7 716.5,1461.9 716.9,1459.9 717.2,1458.2 717.6,1460.9 718,1461.9 718.3,1460.6 718.7,1459.2 719,1457.2 719.4,1456.4 719.8,1455.5 720.1,1453.7 720.5,1452.8 720.8,1454.6 721.2,1454.4 721.6,1452.8 721.9,1453.9 722.3,1453.7 722.6,1454.1 723,1454.6 723.4,1452 723.7,1451.9 724.1,1452.6 724.4,1453.7 724.8,1453.2 725.2,1450.1 725.5,1451.9 725.9,1451 726.1,1449.6 726.4,1446.5 726.8,1449.4 727.1,1451 727.5,1451.6 727.9,1449.2 728.2,1450.4 728.6,1452.8 728.9,1453.5 729.3,1451.9 729.7,1454.5 730,1454.6 730.4,1453.9 730.7,1451 731.1,1449.8 731.5,1450.1 731.8,1450.1 732.2,1449.2 732.5,1446.9 732.9,1447.4 733.3,1446.2 733.6,1446.5 734,1447.1 734.3,1445.6 734.7,1444.1 735.1,1444.7 735.4,1444.9 735.8,1444.2 736.1,1444 736.5,1445.6 736.9,1448 737.2,1447.4 737.6,1448.3 737.9,1446.5 738.3,1448.8 738.7,1448.3 739,1447.7 739.4,1446.5 739.7,1448.9 740.1,1448.3 740.5,1446.9 740.8,1447.4 741.2,1448.6 741.5,1449.2 741.9,1447.2 742.3,1447.4 742.6,1448.2 743,1448.3 743.3,1446.7 743.7,1442 744.1,1445 744.4,1446.5 744.8,1447 745.1,1445.6 745.5,1446.4 745.9,1444.7 746.2,1446.3 746.6,1445.6 746.9,1445.1 747.3,1443.8 747.7,1443.3 748,1441.1 748.4,1441 748.7,1442.9 749.1,1440.8 749.5,1440.2 749.8,1439.1 750.2,1436.6 750.5,1434.6 750.9,1431.2 751.3,1425.5 751.6,1420.4 752,1418.5 752.3,1416.8 752.6,1420.8 752.9,1425.8 753.2,1409.6 753.4,1391.6 753.7,1402.3 754,1413.2 754.2,1409.1 754.5,1406 754.8,1400.7 755,1397 755.3,1389.7 755.6,1382.6 755.9,1382.7 756.3,1380.5 756.6,1390.7 756.8,1402.4 757.1,1397.9 757.4,1396.1 757.7,1398 757.9,1400.6 758.3,1402.9 758.6,1406 759,1408.1 759.4,1407.8 759.7,1411.5 760.1,1415 760.4,1412.5 760.8,1409.6 761.2,1413.5 761.5,1418.6 761.9,1419.2 762.2,1420.4 762.6,1423.2 763,1425.8 763.3,1423.1 763.7,1420.4 764.1,1422.2 764.4,1424 764.8,1427.2 765.1,1427.6 765.5,1425.7 765.9,1423.1 766.2,1421.3 766.6,1420.4 766.9,1419.8 767.3,1417.7 767.7,1417.1 768,1418.6 768.4,1415.7 768.7,1415 769.1,1413.3 769.5,1412.3 769.8,1412 770.2,1411.4 770.5,1414.1 770.9,1415.9 771.2,1417.7 771.4,1421.9 771.8,1414.4 772.2,1406 772.4,1402.8 772.7,1397 773.1,1397.2 773.4,1398.8 773.8,1400.8 774.1,1403.3 774.5,1399.3 774.9,1395.2 775.2,1395.2 775.6,1393.4 775.9,1393.6 776.3,1391.6 776.7,1393.4 777,1394.3 777.4,1392.7 777.7,1390.7 778.1,1392.5 778.5,1396.1 778.8,1393 779.2,1389.8 779.5,1391.3 779.9,1395.2 780.3,1389.8 780.6,1387.1 781,1387.8 781.3,1390.7 781.7,1388.2 782.1,1383.5 782.4,1386.9 782.8,1391.6 783.1,1387.9 783.5,1386.2 783.9,1387.9 784.2,1388 784.6,1386.5 784.9,1385.3 785.3,1385.1 785.7,1387.1 786,1385.3 786.4,1382.6 786.7,1382.9 787.1,1380.5"/>
</g>
</svg>
</body>
</html>
